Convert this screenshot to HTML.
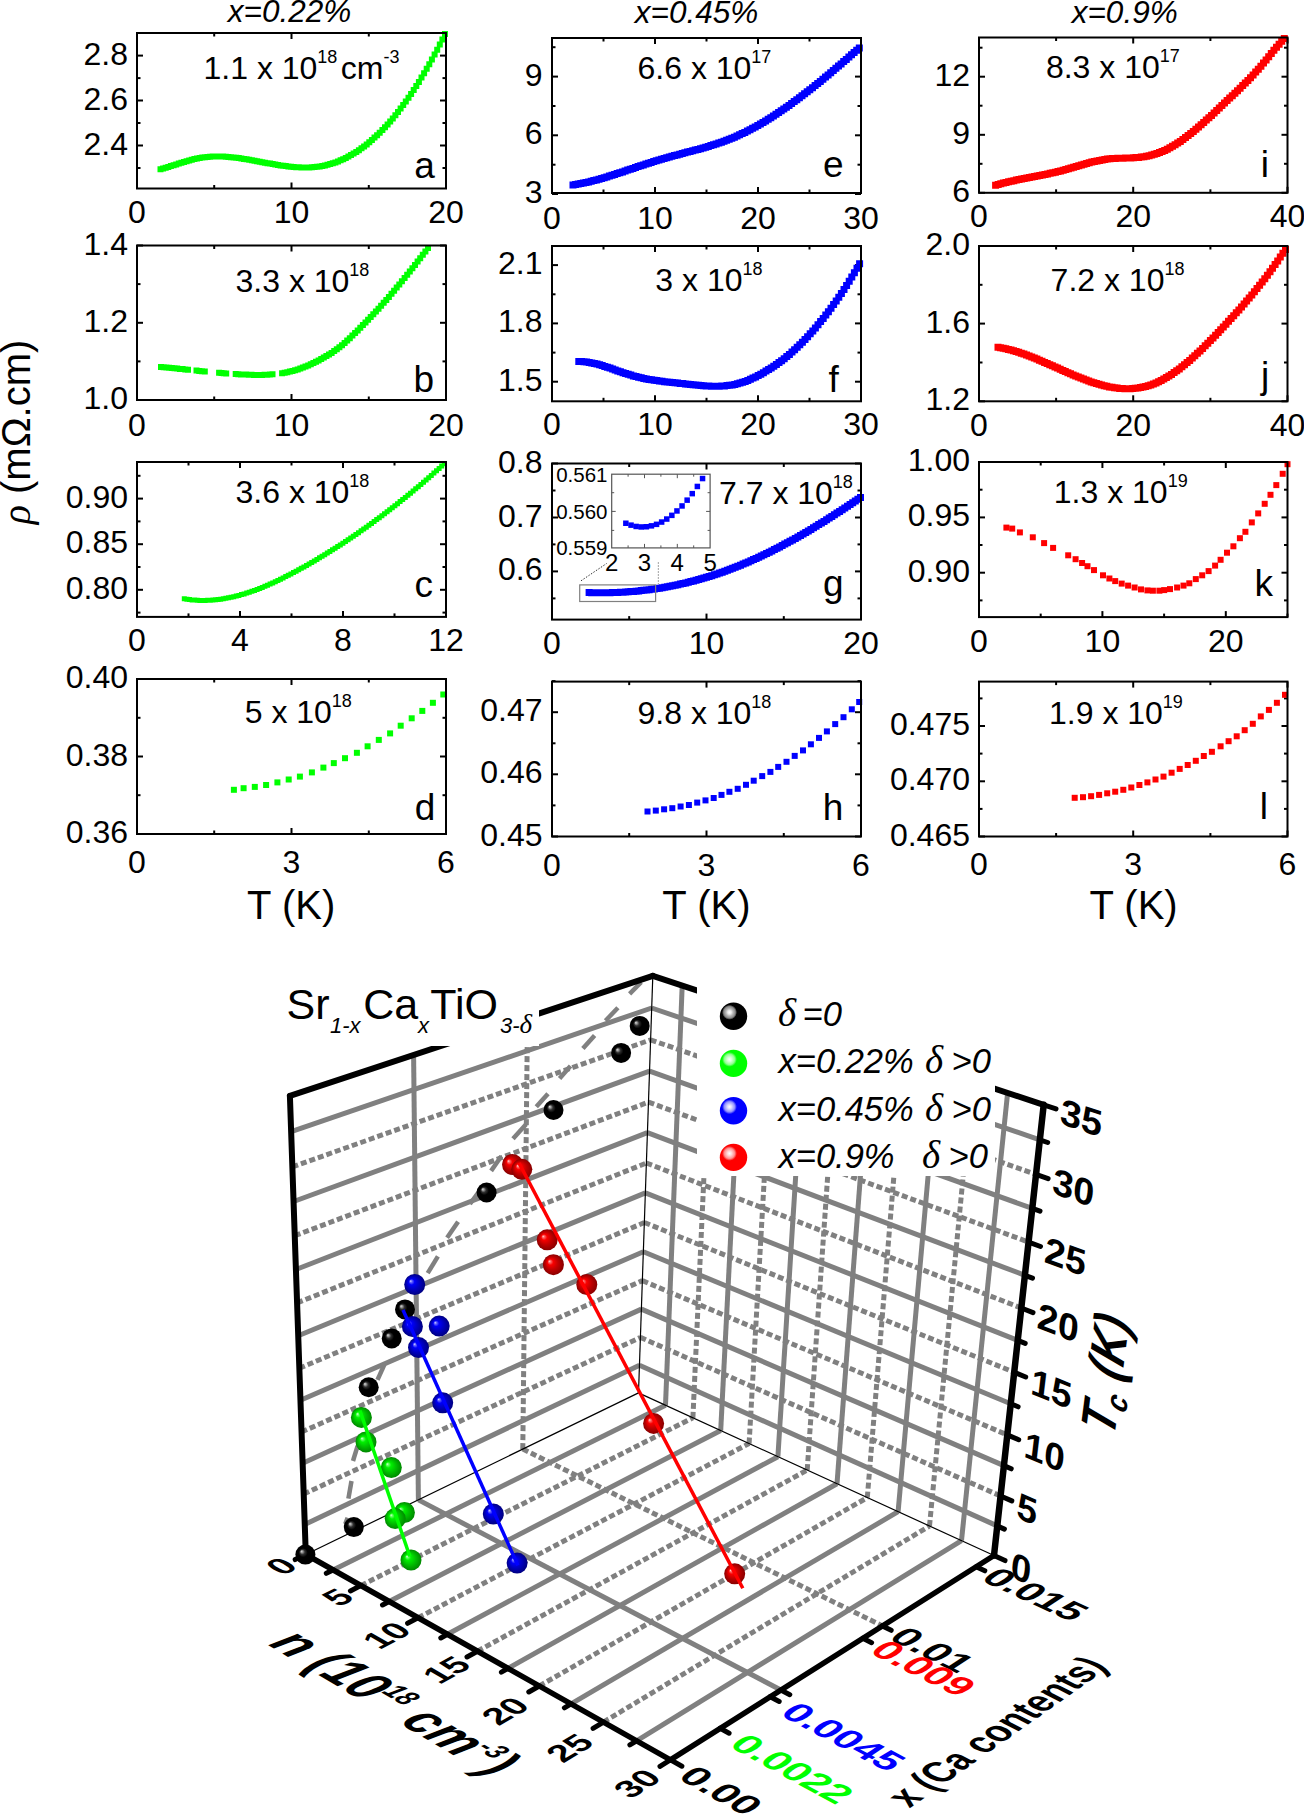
<!DOCTYPE html>
<html><head><meta charset="utf-8"><title>Figure</title>
<style>html,body{margin:0;padding:0;background:#fff;} svg{display:block;} text{font-family:"Liberation Sans", sans-serif;}</style>
</head><body>
<svg width="1304" height="1815" viewBox="0 0 1304 1815" font-family="&quot;Liberation Sans&quot;, sans-serif">
<defs>
<radialGradient id="gk" cx="0.5" cy="0.5" r="0.5" fx="0.3" fy="0.33"><stop offset="0" stop-color="#dadada"/><stop offset="0.1" stop-color="#a0a0a0"/><stop offset="0.25" stop-color="#303030"/><stop offset="0.45" stop-color="#000"/><stop offset="1" stop-color="#000"/></radialGradient>
<radialGradient id="gg" cx="0.5" cy="0.5" r="0.5" fx="0.3" fy="0.33"><stop offset="0" stop-color="#eaffea"/><stop offset="0.1" stop-color="#70ff70"/><stop offset="0.28" stop-color="#00f000"/><stop offset="0.6" stop-color="#00c000"/><stop offset="1" stop-color="#008800"/></radialGradient>
<radialGradient id="gb" cx="0.5" cy="0.5" r="0.5" fx="0.3" fy="0.33"><stop offset="0" stop-color="#e0e0ff"/><stop offset="0.1" stop-color="#7070ff"/><stop offset="0.28" stop-color="#0000f8"/><stop offset="0.6" stop-color="#0000c0"/><stop offset="1" stop-color="#000080"/></radialGradient>
<radialGradient id="gr" cx="0.5" cy="0.5" r="0.5" fx="0.3" fy="0.33"><stop offset="0" stop-color="#ffe0e0"/><stop offset="0.1" stop-color="#ff7070"/><stop offset="0.28" stop-color="#f80000"/><stop offset="0.6" stop-color="#c00000"/><stop offset="1" stop-color="#880000"/></radialGradient>
<radialGradient id="lk" cx="0.354" cy="0.354" r="0.27"><stop offset="0" stop-color="#fff"/><stop offset="0.25" stop-color="#e8e8e8"/><stop offset="0.5" stop-color="#b4b4b4"/><stop offset="0.78" stop-color="#888"/><stop offset="0.92" stop-color="#404040"/><stop offset="1" stop-color="#000"/></radialGradient>
<radialGradient id="lg" cx="0.354" cy="0.354" r="0.27"><stop offset="0" stop-color="#fff"/><stop offset="0.3" stop-color="#d8ffd8"/><stop offset="0.7" stop-color="#90ff90"/><stop offset="1" stop-color="#00ff00"/></radialGradient>
<radialGradient id="lb" cx="0.354" cy="0.354" r="0.27"><stop offset="0" stop-color="#fff"/><stop offset="0.3" stop-color="#d8d8ff"/><stop offset="0.7" stop-color="#9090ff"/><stop offset="1" stop-color="#0000ff"/></radialGradient>
<radialGradient id="lr" cx="0.354" cy="0.354" r="0.27"><stop offset="0" stop-color="#fff"/><stop offset="0.3" stop-color="#ffd8d8"/><stop offset="0.7" stop-color="#ff9090"/><stop offset="1" stop-color="#ff0000"/></radialGradient>
</defs>
<rect width="1304" height="1815" fill="#fff"/>
<line x1="137.0" y1="188.5" x2="137.0" y2="182.5" stroke="#000" stroke-width="2"/>
<line x1="137.0" y1="33.0" x2="137.0" y2="39.0" stroke="#000" stroke-width="2"/>
<line x1="291.5" y1="188.5" x2="291.5" y2="182.5" stroke="#000" stroke-width="2"/>
<line x1="291.5" y1="33.0" x2="291.5" y2="39.0" stroke="#000" stroke-width="2"/>
<line x1="446.0" y1="188.5" x2="446.0" y2="182.5" stroke="#000" stroke-width="2"/>
<line x1="446.0" y1="33.0" x2="446.0" y2="39.0" stroke="#000" stroke-width="2"/>
<line x1="214.2" y1="188.5" x2="214.2" y2="185.0" stroke="#000" stroke-width="2"/>
<line x1="214.2" y1="33.0" x2="214.2" y2="36.5" stroke="#000" stroke-width="2"/>
<line x1="368.8" y1="188.5" x2="368.8" y2="185.0" stroke="#000" stroke-width="2"/>
<line x1="368.8" y1="33.0" x2="368.8" y2="36.5" stroke="#000" stroke-width="2"/>
<line x1="137.0" y1="145.5" x2="143.0" y2="145.5" stroke="#000" stroke-width="2"/>
<line x1="446.0" y1="145.5" x2="440.0" y2="145.5" stroke="#000" stroke-width="2"/>
<line x1="137.0" y1="100.5" x2="143.0" y2="100.5" stroke="#000" stroke-width="2"/>
<line x1="446.0" y1="100.5" x2="440.0" y2="100.5" stroke="#000" stroke-width="2"/>
<line x1="137.0" y1="55.6" x2="143.0" y2="55.6" stroke="#000" stroke-width="2"/>
<line x1="446.0" y1="55.6" x2="440.0" y2="55.6" stroke="#000" stroke-width="2"/>
<line x1="137.0" y1="168.0" x2="140.5" y2="168.0" stroke="#000" stroke-width="2"/>
<line x1="446.0" y1="168.0" x2="442.5" y2="168.0" stroke="#000" stroke-width="2"/>
<line x1="137.0" y1="123.0" x2="140.5" y2="123.0" stroke="#000" stroke-width="2"/>
<line x1="446.0" y1="123.0" x2="442.5" y2="123.0" stroke="#000" stroke-width="2"/>
<line x1="137.0" y1="78.1" x2="140.5" y2="78.1" stroke="#000" stroke-width="2"/>
<line x1="446.0" y1="78.1" x2="442.5" y2="78.1" stroke="#000" stroke-width="2"/>
<path d="M157.5,166.2h6v6h-6zM160.1,165.4h6v6h-6zM162.7,164.7h6v6h-6zM165.3,163.9h6v6h-6zM167.9,163.1h6v6h-6zM170.6,162.2h6v6h-6zM173.2,161.4h6v6h-6zM175.8,160.6h6v6h-6zM178.4,159.8h6v6h-6zM181.0,159.0h6v6h-6zM183.6,158.2h6v6h-6zM186.2,157.5h6v6h-6zM188.8,156.8h6v6h-6zM191.4,156.1h6v6h-6zM194.0,155.6h6v6h-6zM196.7,155.0h6v6h-6zM199.3,154.6h6v6h-6zM201.9,154.2h6v6h-6zM204.5,154.0h6v6h-6zM207.1,153.7h6v6h-6zM209.7,153.6h6v6h-6zM212.3,153.5h6v6h-6zM214.9,153.5h6v6h-6zM217.5,153.5h6v6h-6zM220.1,153.6h6v6h-6zM222.8,153.8h6v6h-6zM225.4,154.0h6v6h-6zM228.0,154.2h6v6h-6zM230.6,154.5h6v6h-6zM233.2,154.8h6v6h-6zM235.8,155.1h6v6h-6zM238.4,155.5h6v6h-6zM241.0,155.9h6v6h-6zM243.6,156.3h6v6h-6zM246.2,156.8h6v6h-6zM248.9,157.2h6v6h-6zM251.5,157.7h6v6h-6zM254.1,158.2h6v6h-6zM256.7,158.7h6v6h-6zM259.3,159.2h6v6h-6zM261.9,159.7h6v6h-6zM264.5,160.2h6v6h-6zM267.1,160.6h6v6h-6zM269.7,161.1h6v6h-6zM272.3,161.6h6v6h-6zM275.0,162.0h6v6h-6zM277.6,162.4h6v6h-6zM280.2,162.8h6v6h-6zM282.8,163.1h6v6h-6zM285.4,163.5h6v6h-6zM288.0,163.7h6v6h-6zM290.6,164.0h6v6h-6zM293.2,164.2h6v6h-6zM295.8,164.3h6v6h-6zM298.4,164.4h6v6h-6zM301.1,164.5h6v6h-6zM303.7,164.5h6v6h-6zM306.3,164.4h6v6h-6zM308.9,164.2h6v6h-6zM311.5,164.0h6v6h-6zM314.1,163.7h6v6h-6zM316.7,163.4h6v6h-6zM319.3,162.9h6v6h-6zM321.9,162.4h6v6h-6zM324.5,161.8h6v6h-6zM327.2,161.1h6v6h-6zM329.8,160.3h6v6h-6zM332.4,159.4h6v6h-6zM335.0,158.4h6v6h-6zM337.6,157.3h6v6h-6zM340.2,156.2h6v6h-6zM342.8,154.9h6v6h-6zM345.4,153.5h6v6h-6zM348.0,152.1h6v6h-6zM350.6,150.5h6v6h-6zM353.3,148.9h6v6h-6zM355.9,147.2h6v6h-6zM358.5,145.3h6v6h-6zM361.1,143.4h6v6h-6zM363.7,141.4h6v6h-6zM366.3,139.2h6v6h-6zM368.9,137.0h6v6h-6zM371.5,134.6h6v6h-6zM374.1,132.2h6v6h-6zM376.7,129.7h6v6h-6zM379.4,127.0h6v6h-6zM382.0,124.3h6v6h-6zM384.6,121.4h6v6h-6zM387.2,118.5h6v6h-6zM389.8,115.4h6v6h-6zM392.4,112.2h6v6h-6zM395.0,109.0h6v6h-6zM397.6,105.6h6v6h-6zM400.2,102.1h6v6h-6zM402.8,98.5h6v6h-6zM405.5,94.8h6v6h-6zM408.1,91.0h6v6h-6zM410.7,87.1h6v6h-6zM413.3,83.0h6v6h-6zM415.9,78.9h6v6h-6zM418.5,74.6h6v6h-6zM421.1,70.3h6v6h-6zM423.7,65.8h6v6h-6zM426.3,61.2h6v6h-6zM428.9,56.5h6v6h-6zM431.6,51.6h6v6h-6zM434.2,46.7h6v6h-6zM436.8,41.6h6v6h-6zM439.4,36.4h6v6h-6zM442.0,31.1h6v6h-6z" fill="#00ff00"/>
<rect x="137.0" y="33.0" width="309.0" height="155.5" fill="none" stroke="#000" stroke-width="2"/>
<text x="128.0" y="154.5" font-size="32" text-anchor="end">2.4</text>
<text x="128.0" y="109.5" font-size="32" text-anchor="end">2.6</text>
<text x="128.0" y="64.6" font-size="32" text-anchor="end">2.8</text>
<text x="137.0" y="223.3" font-size="32" text-anchor="middle">0</text>
<text x="291.5" y="223.3" font-size="32" text-anchor="middle">10</text>
<text x="446.0" y="223.3" font-size="32" text-anchor="middle">20</text>
<text x="203.5" y="78.6" font-size="32">1.1 x 10<tspan font-size="18" dy="-16">18</tspan><tspan font-size="32" dy="16" dx="-5.5"> cm</tspan><tspan font-size="18" dy="-16">-3</tspan></text>
<text x="414.2" y="177.7" font-size="37">a</text>
<line x1="137.0" y1="400.0" x2="137.0" y2="394.0" stroke="#000" stroke-width="2"/>
<line x1="137.0" y1="245.5" x2="137.0" y2="251.5" stroke="#000" stroke-width="2"/>
<line x1="291.5" y1="400.0" x2="291.5" y2="394.0" stroke="#000" stroke-width="2"/>
<line x1="291.5" y1="245.5" x2="291.5" y2="251.5" stroke="#000" stroke-width="2"/>
<line x1="446.0" y1="400.0" x2="446.0" y2="394.0" stroke="#000" stroke-width="2"/>
<line x1="446.0" y1="245.5" x2="446.0" y2="251.5" stroke="#000" stroke-width="2"/>
<line x1="214.2" y1="400.0" x2="214.2" y2="396.5" stroke="#000" stroke-width="2"/>
<line x1="214.2" y1="245.5" x2="214.2" y2="249.0" stroke="#000" stroke-width="2"/>
<line x1="368.8" y1="400.0" x2="368.8" y2="396.5" stroke="#000" stroke-width="2"/>
<line x1="368.8" y1="245.5" x2="368.8" y2="249.0" stroke="#000" stroke-width="2"/>
<line x1="137.0" y1="400.0" x2="143.0" y2="400.0" stroke="#000" stroke-width="2"/>
<line x1="446.0" y1="400.0" x2="440.0" y2="400.0" stroke="#000" stroke-width="2"/>
<line x1="137.0" y1="322.8" x2="143.0" y2="322.8" stroke="#000" stroke-width="2"/>
<line x1="446.0" y1="322.8" x2="440.0" y2="322.8" stroke="#000" stroke-width="2"/>
<line x1="137.0" y1="245.5" x2="143.0" y2="245.5" stroke="#000" stroke-width="2"/>
<line x1="446.0" y1="245.5" x2="440.0" y2="245.5" stroke="#000" stroke-width="2"/>
<line x1="137.0" y1="361.4" x2="140.5" y2="361.4" stroke="#000" stroke-width="2"/>
<line x1="446.0" y1="361.4" x2="442.5" y2="361.4" stroke="#000" stroke-width="2"/>
<line x1="137.0" y1="284.1" x2="140.5" y2="284.1" stroke="#000" stroke-width="2"/>
<line x1="446.0" y1="284.1" x2="442.5" y2="284.1" stroke="#000" stroke-width="2"/>
<path d="M158.0,363.9h6v6h-6zM160.7,364.2h6v6h-6zM163.4,364.5h6v6h-6zM166.1,364.7h6v6h-6zM168.8,365.0h6v6h-6zM171.5,365.3h6v6h-6zM174.2,365.6h6v6h-6zM176.9,365.9h6v6h-6zM179.6,366.1h6v6h-6zM182.3,366.4h6v6h-6zM185.0,366.7h6v6h-6z" fill="#00ff00"/>
<path d="M193.5,367.6h6v6h-6zM196.3,367.9h6v6h-6zM199.0,368.2h6v6h-6zM201.8,368.4h6v6h-6z" fill="#00ff00"/>
<path d="M216.1,369.8h6v6h-6zM218.5,370.0h6v6h-6zM220.8,370.2h6v6h-6zM223.2,370.4h6v6h-6z" fill="#00ff00"/>
<path d="M232.7,371.1h6v6h-6zM235.3,371.2h6v6h-6zM238.0,371.4h6v6h-6zM240.6,371.5h6v6h-6zM243.2,371.6h6v6h-6zM245.8,371.7h6v6h-6zM248.5,371.8h6v6h-6zM251.1,371.9h6v6h-6zM253.7,371.9h6v6h-6zM256.4,371.9h6v6h-6zM259.0,371.9h6v6h-6zM261.6,371.8h6v6h-6zM264.2,371.7h6v6h-6zM266.9,371.5h6v6h-6zM269.5,371.3h6v6h-6z" fill="#00ff00"/>
<path d="M279.1,370.2h6v6h-6zM281.7,369.7h6v6h-6zM284.3,369.2h6v6h-6zM286.9,368.6h6v6h-6zM289.5,368.0h6v6h-6zM292.1,367.2h6v6h-6zM294.7,366.5h6v6h-6zM297.3,365.6h6v6h-6zM299.9,364.6h6v6h-6zM302.5,363.6h6v6h-6zM305.2,362.5h6v6h-6zM307.8,361.3h6v6h-6zM310.4,360.0h6v6h-6zM313.0,358.7h6v6h-6zM315.6,357.4h6v6h-6zM318.2,356.0h6v6h-6zM320.8,354.5h6v6h-6zM323.4,353.0h6v6h-6zM326.0,351.5h6v6h-6zM328.6,349.9h6v6h-6zM331.2,348.1h6v6h-6zM333.8,346.3h6v6h-6zM336.4,344.3h6v6h-6zM339.0,342.2h6v6h-6zM341.6,340.0h6v6h-6zM344.2,337.6h6v6h-6zM346.8,335.2h6v6h-6zM349.4,332.6h6v6h-6zM352.1,330.0h6v6h-6zM354.7,327.4h6v6h-6zM357.3,324.7h6v6h-6zM359.9,322.1h6v6h-6zM362.5,319.4h6v6h-6zM365.1,316.8h6v6h-6zM367.7,314.1h6v6h-6zM370.3,311.3h6v6h-6zM372.9,308.5h6v6h-6zM375.5,305.7h6v6h-6zM378.1,302.8h6v6h-6zM380.7,299.8h6v6h-6zM383.3,296.9h6v6h-6zM385.9,293.9h6v6h-6zM388.5,290.8h6v6h-6zM391.1,287.7h6v6h-6zM393.7,284.6h6v6h-6zM396.3,281.4h6v6h-6zM398.9,278.3h6v6h-6zM401.6,275.0h6v6h-6zM404.2,271.8h6v6h-6zM406.8,268.5h6v6h-6zM409.4,265.2h6v6h-6zM412.0,261.9h6v6h-6zM414.6,258.6h6v6h-6zM417.2,255.2h6v6h-6zM419.8,251.8h6v6h-6zM422.4,248.4h6v6h-6zM425.0,245.0h6v6h-6z" fill="#00ff00"/>
<rect x="137.0" y="245.5" width="309.0" height="154.5" fill="none" stroke="#000" stroke-width="2"/>
<text x="128.0" y="409.0" font-size="32" text-anchor="end">1.0</text>
<text x="128.0" y="331.8" font-size="32" text-anchor="end">1.2</text>
<text x="128.0" y="254.5" font-size="32" text-anchor="end">1.4</text>
<text x="137.0" y="435.9" font-size="32" text-anchor="middle">0</text>
<text x="291.5" y="435.9" font-size="32" text-anchor="middle">10</text>
<text x="446.0" y="435.9" font-size="32" text-anchor="middle">20</text>
<text x="235.5" y="292.2" font-size="32">3.3 x 10<tspan font-size="18" dy="-16">18</tspan></text>
<text x="413.5" y="392.0" font-size="37">b</text>
<line x1="137.0" y1="616.9" x2="137.0" y2="610.9" stroke="#000" stroke-width="2"/>
<line x1="137.0" y1="462.0" x2="137.0" y2="468.0" stroke="#000" stroke-width="2"/>
<line x1="240.0" y1="616.9" x2="240.0" y2="610.9" stroke="#000" stroke-width="2"/>
<line x1="240.0" y1="462.0" x2="240.0" y2="468.0" stroke="#000" stroke-width="2"/>
<line x1="343.0" y1="616.9" x2="343.0" y2="610.9" stroke="#000" stroke-width="2"/>
<line x1="343.0" y1="462.0" x2="343.0" y2="468.0" stroke="#000" stroke-width="2"/>
<line x1="446.0" y1="616.9" x2="446.0" y2="610.9" stroke="#000" stroke-width="2"/>
<line x1="446.0" y1="462.0" x2="446.0" y2="468.0" stroke="#000" stroke-width="2"/>
<line x1="188.5" y1="616.9" x2="188.5" y2="613.4" stroke="#000" stroke-width="2"/>
<line x1="188.5" y1="462.0" x2="188.5" y2="465.5" stroke="#000" stroke-width="2"/>
<line x1="291.5" y1="616.9" x2="291.5" y2="613.4" stroke="#000" stroke-width="2"/>
<line x1="291.5" y1="462.0" x2="291.5" y2="465.5" stroke="#000" stroke-width="2"/>
<line x1="394.5" y1="616.9" x2="394.5" y2="613.4" stroke="#000" stroke-width="2"/>
<line x1="394.5" y1="462.0" x2="394.5" y2="465.5" stroke="#000" stroke-width="2"/>
<line x1="137.0" y1="589.8" x2="143.0" y2="589.8" stroke="#000" stroke-width="2"/>
<line x1="446.0" y1="589.8" x2="440.0" y2="589.8" stroke="#000" stroke-width="2"/>
<line x1="137.0" y1="544.2" x2="143.0" y2="544.2" stroke="#000" stroke-width="2"/>
<line x1="446.0" y1="544.2" x2="440.0" y2="544.2" stroke="#000" stroke-width="2"/>
<line x1="137.0" y1="498.6" x2="143.0" y2="498.6" stroke="#000" stroke-width="2"/>
<line x1="446.0" y1="498.6" x2="440.0" y2="498.6" stroke="#000" stroke-width="2"/>
<line x1="137.0" y1="612.6" x2="140.5" y2="612.6" stroke="#000" stroke-width="2"/>
<line x1="446.0" y1="612.6" x2="442.5" y2="612.6" stroke="#000" stroke-width="2"/>
<line x1="137.0" y1="567.0" x2="140.5" y2="567.0" stroke="#000" stroke-width="2"/>
<line x1="446.0" y1="567.0" x2="442.5" y2="567.0" stroke="#000" stroke-width="2"/>
<line x1="137.0" y1="521.4" x2="140.5" y2="521.4" stroke="#000" stroke-width="2"/>
<line x1="446.0" y1="521.4" x2="442.5" y2="521.4" stroke="#000" stroke-width="2"/>
<line x1="137.0" y1="475.8" x2="140.5" y2="475.8" stroke="#000" stroke-width="2"/>
<line x1="446.0" y1="475.8" x2="442.5" y2="475.8" stroke="#000" stroke-width="2"/>
<path d="M181.8,596.3h5v5h-5zM184.4,596.7h5v5h-5zM187.0,597.1h5v5h-5zM189.6,597.4h5v5h-5zM192.2,597.6h5v5h-5zM194.8,597.8h5v5h-5zM197.4,597.9h5v5h-5zM200.0,597.9h5v5h-5zM202.6,597.9h5v5h-5zM205.2,597.8h5v5h-5zM207.8,597.7h5v5h-5zM210.4,597.5h5v5h-5zM213.0,597.3h5v5h-5zM215.6,597.0h5v5h-5zM218.2,596.7h5v5h-5zM220.8,596.3h5v5h-5zM223.4,595.8h5v5h-5zM226.0,595.3h5v5h-5zM228.6,594.8h5v5h-5zM231.2,594.2h5v5h-5zM233.8,593.5h5v5h-5zM236.4,592.9h5v5h-5zM239.0,592.1h5v5h-5zM241.6,591.4h5v5h-5zM244.2,590.6h5v5h-5zM246.8,589.7h5v5h-5zM249.4,588.8h5v5h-5zM252.0,587.9h5v5h-5zM254.6,586.9h5v5h-5zM257.2,585.9h5v5h-5zM259.8,584.9h5v5h-5zM262.4,583.8h5v5h-5zM265.0,582.7h5v5h-5zM267.6,581.6h5v5h-5zM270.2,580.4h5v5h-5zM272.8,579.2h5v5h-5zM275.4,578.0h5v5h-5zM278.0,576.7h5v5h-5zM280.6,575.4h5v5h-5zM283.2,574.1h5v5h-5zM285.8,572.8h5v5h-5zM288.4,571.4h5v5h-5zM291.0,570.1h5v5h-5zM293.6,568.7h5v5h-5zM296.2,567.3h5v5h-5zM298.8,565.8h5v5h-5zM301.4,564.4h5v5h-5zM304.0,562.9h5v5h-5zM306.6,561.4h5v5h-5zM309.2,559.9h5v5h-5zM311.8,558.4h5v5h-5zM314.4,556.9h5v5h-5zM317.0,555.3h5v5h-5zM319.6,553.8h5v5h-5zM322.2,552.2h5v5h-5zM324.8,550.6h5v5h-5zM327.4,549.0h5v5h-5zM330.0,547.3h5v5h-5zM332.6,545.7h5v5h-5zM335.2,544.0h5v5h-5zM337.8,542.4h5v5h-5zM340.4,540.7h5v5h-5zM343.0,539.0h5v5h-5zM345.6,537.2h5v5h-5zM348.2,535.5h5v5h-5zM350.8,533.7h5v5h-5zM353.4,531.9h5v5h-5zM356.0,530.2h5v5h-5zM358.6,528.3h5v5h-5zM361.2,526.5h5v5h-5zM363.8,524.7h5v5h-5zM366.4,522.8h5v5h-5zM369.0,520.9h5v5h-5zM371.6,519.0h5v5h-5zM374.2,517.1h5v5h-5zM376.8,515.2h5v5h-5zM379.4,513.3h5v5h-5zM382.0,511.3h5v5h-5zM384.6,509.3h5v5h-5zM387.2,507.3h5v5h-5zM389.8,505.3h5v5h-5zM392.4,503.3h5v5h-5zM395.0,501.2h5v5h-5zM397.6,499.1h5v5h-5zM400.2,497.1h5v5h-5zM402.8,494.9h5v5h-5zM405.4,492.8h5v5h-5zM408.0,490.7h5v5h-5zM410.6,488.5h5v5h-5zM413.2,486.3h5v5h-5zM415.8,484.2h5v5h-5zM418.4,481.9h5v5h-5zM421.0,479.7h5v5h-5zM423.6,477.5h5v5h-5zM426.2,475.2h5v5h-5zM428.8,472.9h5v5h-5zM431.4,470.6h5v5h-5zM434.0,468.3h5v5h-5zM436.6,465.9h5v5h-5zM439.2,463.6h5v5h-5zM441.8,461.2h5v5h-5z" fill="#00ff00"/>
<rect x="137.0" y="462.0" width="309.0" height="154.9" fill="none" stroke="#000" stroke-width="2"/>
<text x="128.0" y="598.8" font-size="32" text-anchor="end">0.80</text>
<text x="128.0" y="553.2" font-size="32" text-anchor="end">0.85</text>
<text x="128.0" y="507.6" font-size="32" text-anchor="end">0.90</text>
<text x="137.0" y="651.0" font-size="32" text-anchor="middle">0</text>
<text x="240.0" y="651.0" font-size="32" text-anchor="middle">4</text>
<text x="343.0" y="651.0" font-size="32" text-anchor="middle">8</text>
<text x="446.0" y="651.0" font-size="32" text-anchor="middle">12</text>
<text x="235.5" y="502.5" font-size="32">3.6 x 10<tspan font-size="18" dy="-16">18</tspan></text>
<text x="414.6" y="597.0" font-size="37">c</text>
<line x1="137.0" y1="834.0" x2="137.0" y2="828.0" stroke="#000" stroke-width="2"/>
<line x1="137.0" y1="679.0" x2="137.0" y2="685.0" stroke="#000" stroke-width="2"/>
<line x1="291.5" y1="834.0" x2="291.5" y2="828.0" stroke="#000" stroke-width="2"/>
<line x1="291.5" y1="679.0" x2="291.5" y2="685.0" stroke="#000" stroke-width="2"/>
<line x1="446.0" y1="834.0" x2="446.0" y2="828.0" stroke="#000" stroke-width="2"/>
<line x1="446.0" y1="679.0" x2="446.0" y2="685.0" stroke="#000" stroke-width="2"/>
<line x1="214.2" y1="834.0" x2="214.2" y2="830.5" stroke="#000" stroke-width="2"/>
<line x1="214.2" y1="679.0" x2="214.2" y2="682.5" stroke="#000" stroke-width="2"/>
<line x1="368.8" y1="834.0" x2="368.8" y2="830.5" stroke="#000" stroke-width="2"/>
<line x1="368.8" y1="679.0" x2="368.8" y2="682.5" stroke="#000" stroke-width="2"/>
<line x1="137.0" y1="834.0" x2="143.0" y2="834.0" stroke="#000" stroke-width="2"/>
<line x1="446.0" y1="834.0" x2="440.0" y2="834.0" stroke="#000" stroke-width="2"/>
<line x1="137.0" y1="756.5" x2="143.0" y2="756.5" stroke="#000" stroke-width="2"/>
<line x1="446.0" y1="756.5" x2="440.0" y2="756.5" stroke="#000" stroke-width="2"/>
<line x1="137.0" y1="679.0" x2="143.0" y2="679.0" stroke="#000" stroke-width="2"/>
<line x1="446.0" y1="679.0" x2="440.0" y2="679.0" stroke="#000" stroke-width="2"/>
<line x1="137.0" y1="795.2" x2="140.5" y2="795.2" stroke="#000" stroke-width="2"/>
<line x1="446.0" y1="795.2" x2="442.5" y2="795.2" stroke="#000" stroke-width="2"/>
<line x1="137.0" y1="717.8" x2="140.5" y2="717.8" stroke="#000" stroke-width="2"/>
<line x1="446.0" y1="717.8" x2="442.5" y2="717.8" stroke="#000" stroke-width="2"/>
<rect x="230.9" y="786.8" width="6" height="6" fill="#00ff00"/>
<rect x="240.6" y="785.2" width="6" height="6" fill="#00ff00"/>
<rect x="251.8" y="783.9" width="6" height="6" fill="#00ff00"/>
<rect x="263.1" y="782.0" width="6" height="6" fill="#00ff00"/>
<rect x="274.4" y="779.4" width="6" height="6" fill="#00ff00"/>
<rect x="285.7" y="776.5" width="6" height="6" fill="#00ff00"/>
<rect x="296.9" y="773.6" width="6" height="6" fill="#00ff00"/>
<rect x="308.9" y="769.4" width="6" height="6" fill="#00ff00"/>
<rect x="320.4" y="764.6" width="6" height="6" fill="#00ff00"/>
<rect x="330.8" y="760.1" width="6" height="6" fill="#00ff00"/>
<rect x="342.0" y="755.2" width="6" height="6" fill="#00ff00"/>
<rect x="353.9" y="749.8" width="6" height="6" fill="#00ff00"/>
<rect x="364.6" y="743.3" width="6" height="6" fill="#00ff00"/>
<rect x="375.8" y="736.9" width="6" height="6" fill="#00ff00"/>
<rect x="387.1" y="730.4" width="6" height="6" fill="#00ff00"/>
<rect x="397.7" y="722.7" width="6" height="6" fill="#00ff00"/>
<rect x="408.7" y="715.3" width="6" height="6" fill="#00ff00"/>
<rect x="419.3" y="707.9" width="6" height="6" fill="#00ff00"/>
<rect x="429.9" y="699.8" width="6" height="6" fill="#00ff00"/>
<rect x="440.3" y="691.5" width="6" height="6" fill="#00ff00"/>
<rect x="137.0" y="679.0" width="309.0" height="155.0" fill="none" stroke="#000" stroke-width="2"/>
<text x="128.0" y="843.0" font-size="32" text-anchor="end">0.36</text>
<text x="128.0" y="765.5" font-size="32" text-anchor="end">0.38</text>
<text x="128.0" y="688.0" font-size="32" text-anchor="end">0.40</text>
<text x="137.0" y="873.2" font-size="32" text-anchor="middle">0</text>
<text x="291.5" y="873.2" font-size="32" text-anchor="middle">3</text>
<text x="446.0" y="873.2" font-size="32" text-anchor="middle">6</text>
<text x="244.7" y="722.5" font-size="32">5 x 10<tspan font-size="18" dy="-16">18</tspan></text>
<text x="414.8" y="820.0" font-size="37">d</text>
<line x1="552.0" y1="193.0" x2="552.0" y2="187.0" stroke="#000" stroke-width="2"/>
<line x1="552.0" y1="38.0" x2="552.0" y2="44.0" stroke="#000" stroke-width="2"/>
<line x1="655.0" y1="193.0" x2="655.0" y2="187.0" stroke="#000" stroke-width="2"/>
<line x1="655.0" y1="38.0" x2="655.0" y2="44.0" stroke="#000" stroke-width="2"/>
<line x1="758.0" y1="193.0" x2="758.0" y2="187.0" stroke="#000" stroke-width="2"/>
<line x1="758.0" y1="38.0" x2="758.0" y2="44.0" stroke="#000" stroke-width="2"/>
<line x1="861.0" y1="193.0" x2="861.0" y2="187.0" stroke="#000" stroke-width="2"/>
<line x1="861.0" y1="38.0" x2="861.0" y2="44.0" stroke="#000" stroke-width="2"/>
<line x1="603.5" y1="193.0" x2="603.5" y2="189.5" stroke="#000" stroke-width="2"/>
<line x1="603.5" y1="38.0" x2="603.5" y2="41.5" stroke="#000" stroke-width="2"/>
<line x1="706.5" y1="193.0" x2="706.5" y2="189.5" stroke="#000" stroke-width="2"/>
<line x1="706.5" y1="38.0" x2="706.5" y2="41.5" stroke="#000" stroke-width="2"/>
<line x1="809.5" y1="193.0" x2="809.5" y2="189.5" stroke="#000" stroke-width="2"/>
<line x1="809.5" y1="38.0" x2="809.5" y2="41.5" stroke="#000" stroke-width="2"/>
<line x1="552.0" y1="194.0" x2="558.0" y2="194.0" stroke="#000" stroke-width="2"/>
<line x1="861.0" y1="194.0" x2="855.0" y2="194.0" stroke="#000" stroke-width="2"/>
<line x1="552.0" y1="135.3" x2="558.0" y2="135.3" stroke="#000" stroke-width="2"/>
<line x1="861.0" y1="135.3" x2="855.0" y2="135.3" stroke="#000" stroke-width="2"/>
<line x1="552.0" y1="76.6" x2="558.0" y2="76.6" stroke="#000" stroke-width="2"/>
<line x1="861.0" y1="76.6" x2="855.0" y2="76.6" stroke="#000" stroke-width="2"/>
<line x1="552.0" y1="164.7" x2="555.5" y2="164.7" stroke="#000" stroke-width="2"/>
<line x1="861.0" y1="164.7" x2="857.5" y2="164.7" stroke="#000" stroke-width="2"/>
<line x1="552.0" y1="106.0" x2="555.5" y2="106.0" stroke="#000" stroke-width="2"/>
<line x1="861.0" y1="106.0" x2="857.5" y2="106.0" stroke="#000" stroke-width="2"/>
<line x1="552.0" y1="47.2" x2="555.5" y2="47.2" stroke="#000" stroke-width="2"/>
<line x1="861.0" y1="47.2" x2="857.5" y2="47.2" stroke="#000" stroke-width="2"/>
<path d="M569.5,181.5h7v7h-7zM572.1,181.1h7v7h-7zM574.7,180.6h7v7h-7zM577.3,180.1h7v7h-7zM579.9,179.6h7v7h-7zM582.5,179.0h7v7h-7zM585.1,178.4h7v7h-7zM587.7,177.8h7v7h-7zM590.3,177.1h7v7h-7zM592.9,176.4h7v7h-7zM595.5,175.7h7v7h-7zM598.1,175.0h7v7h-7zM600.7,174.2h7v7h-7zM603.3,173.4h7v7h-7zM605.9,172.6h7v7h-7zM608.5,171.8h7v7h-7zM611.1,170.9h7v7h-7zM613.7,170.1h7v7h-7zM616.3,169.2h7v7h-7zM619.0,168.4h7v7h-7zM621.6,167.5h7v7h-7zM624.2,166.6h7v7h-7zM626.8,165.8h7v7h-7zM629.4,164.9h7v7h-7zM632.0,164.0h7v7h-7zM634.6,163.1h7v7h-7zM637.2,162.3h7v7h-7zM639.8,161.4h7v7h-7zM642.4,160.6h7v7h-7zM645.0,159.7h7v7h-7zM647.6,158.9h7v7h-7zM650.2,158.0h7v7h-7zM652.8,157.2h7v7h-7zM655.4,156.4h7v7h-7zM658.0,155.7h7v7h-7zM660.6,154.9h7v7h-7zM663.2,154.2h7v7h-7zM665.8,153.4h7v7h-7zM668.4,152.7h7v7h-7zM671.0,152.0h7v7h-7zM673.6,151.4h7v7h-7zM676.2,150.7h7v7h-7zM678.8,150.0h7v7h-7zM681.4,149.3h7v7h-7zM684.0,148.6h7v7h-7zM686.6,148.0h7v7h-7zM689.2,147.3h7v7h-7zM691.8,146.6h7v7h-7zM694.4,145.9h7v7h-7zM697.0,145.2h7v7h-7zM699.6,144.4h7v7h-7zM702.2,143.7h7v7h-7zM704.8,142.9h7v7h-7zM707.4,142.1h7v7h-7zM710.0,141.3h7v7h-7zM712.6,140.5h7v7h-7zM715.3,139.6h7v7h-7zM717.9,138.7h7v7h-7zM720.5,137.8h7v7h-7zM723.1,136.8h7v7h-7zM725.7,135.8h7v7h-7zM728.3,134.7h7v7h-7zM730.9,133.7h7v7h-7zM733.5,132.5h7v7h-7zM736.1,131.3h7v7h-7zM738.7,130.1h7v7h-7zM741.3,128.9h7v7h-7zM743.9,127.6h7v7h-7zM746.5,126.2h7v7h-7zM749.1,124.8h7v7h-7zM751.7,123.4h7v7h-7zM754.3,122.0h7v7h-7zM756.9,120.5h7v7h-7zM759.5,119.0h7v7h-7zM762.1,117.4h7v7h-7zM764.7,115.8h7v7h-7zM767.3,114.2h7v7h-7zM769.9,112.5h7v7h-7zM772.5,110.8h7v7h-7zM775.1,109.1h7v7h-7zM777.7,107.3h7v7h-7zM780.3,105.6h7v7h-7zM782.9,103.7h7v7h-7zM785.5,101.9h7v7h-7zM788.1,100.0h7v7h-7zM790.7,98.1h7v7h-7zM793.3,96.2h7v7h-7zM795.9,94.3h7v7h-7zM798.5,92.3h7v7h-7zM801.1,90.3h7v7h-7zM803.7,88.3h7v7h-7zM806.3,86.2h7v7h-7zM809.0,84.2h7v7h-7zM811.6,82.1h7v7h-7zM814.2,80.0h7v7h-7zM816.8,77.9h7v7h-7zM819.4,75.8h7v7h-7zM822.0,73.6h7v7h-7zM824.6,71.4h7v7h-7zM827.2,69.2h7v7h-7zM829.8,67.0h7v7h-7zM832.4,64.8h7v7h-7zM835.0,62.6h7v7h-7zM837.6,60.4h7v7h-7zM840.2,58.1h7v7h-7zM842.8,55.9h7v7h-7zM845.4,53.6h7v7h-7zM848.0,51.3h7v7h-7zM850.6,49.0h7v7h-7zM853.2,46.7h7v7h-7zM855.8,44.4h7v7h-7z" fill="#0000ff"/>
<rect x="552.0" y="38.0" width="309.0" height="155.0" fill="none" stroke="#000" stroke-width="2"/>
<text x="542.5" y="203.0" font-size="32" text-anchor="end">3</text>
<text x="542.5" y="144.3" font-size="32" text-anchor="end">6</text>
<text x="542.5" y="85.6" font-size="32" text-anchor="end">9</text>
<text x="552.0" y="229.0" font-size="32" text-anchor="middle">0</text>
<text x="655.0" y="229.0" font-size="32" text-anchor="middle">10</text>
<text x="758.0" y="229.0" font-size="32" text-anchor="middle">20</text>
<text x="861.0" y="229.0" font-size="32" text-anchor="middle">30</text>
<text x="637.5" y="78.8" font-size="32">6.6 x 10<tspan font-size="18" dy="-16">17</tspan></text>
<text x="822.9" y="177.0" font-size="37">e</text>
<line x1="552.0" y1="401.3" x2="552.0" y2="395.3" stroke="#000" stroke-width="2"/>
<line x1="552.0" y1="246.0" x2="552.0" y2="252.0" stroke="#000" stroke-width="2"/>
<line x1="655.0" y1="401.3" x2="655.0" y2="395.3" stroke="#000" stroke-width="2"/>
<line x1="655.0" y1="246.0" x2="655.0" y2="252.0" stroke="#000" stroke-width="2"/>
<line x1="758.0" y1="401.3" x2="758.0" y2="395.3" stroke="#000" stroke-width="2"/>
<line x1="758.0" y1="246.0" x2="758.0" y2="252.0" stroke="#000" stroke-width="2"/>
<line x1="861.0" y1="401.3" x2="861.0" y2="395.3" stroke="#000" stroke-width="2"/>
<line x1="861.0" y1="246.0" x2="861.0" y2="252.0" stroke="#000" stroke-width="2"/>
<line x1="603.5" y1="401.3" x2="603.5" y2="397.8" stroke="#000" stroke-width="2"/>
<line x1="603.5" y1="246.0" x2="603.5" y2="249.5" stroke="#000" stroke-width="2"/>
<line x1="706.5" y1="401.3" x2="706.5" y2="397.8" stroke="#000" stroke-width="2"/>
<line x1="706.5" y1="246.0" x2="706.5" y2="249.5" stroke="#000" stroke-width="2"/>
<line x1="809.5" y1="401.3" x2="809.5" y2="397.8" stroke="#000" stroke-width="2"/>
<line x1="809.5" y1="246.0" x2="809.5" y2="249.5" stroke="#000" stroke-width="2"/>
<line x1="552.0" y1="381.7" x2="558.0" y2="381.7" stroke="#000" stroke-width="2"/>
<line x1="861.0" y1="381.7" x2="855.0" y2="381.7" stroke="#000" stroke-width="2"/>
<line x1="552.0" y1="323.4" x2="558.0" y2="323.4" stroke="#000" stroke-width="2"/>
<line x1="861.0" y1="323.4" x2="855.0" y2="323.4" stroke="#000" stroke-width="2"/>
<line x1="552.0" y1="265.1" x2="558.0" y2="265.1" stroke="#000" stroke-width="2"/>
<line x1="861.0" y1="265.1" x2="855.0" y2="265.1" stroke="#000" stroke-width="2"/>
<line x1="552.0" y1="352.6" x2="555.5" y2="352.6" stroke="#000" stroke-width="2"/>
<line x1="861.0" y1="352.6" x2="857.5" y2="352.6" stroke="#000" stroke-width="2"/>
<line x1="552.0" y1="294.3" x2="555.5" y2="294.3" stroke="#000" stroke-width="2"/>
<line x1="861.0" y1="294.3" x2="857.5" y2="294.3" stroke="#000" stroke-width="2"/>
<path d="M575.3,358.1h7v7h-7zM577.9,358.1h7v7h-7zM580.5,358.3h7v7h-7zM583.1,358.6h7v7h-7zM585.7,359.0h7v7h-7zM588.3,359.4h7v7h-7zM590.9,360.0h7v7h-7zM593.5,360.6h7v7h-7zM596.1,361.3h7v7h-7zM598.7,362.1h7v7h-7zM601.3,362.9h7v7h-7zM603.9,363.8h7v7h-7zM606.5,364.6h7v7h-7zM609.1,365.5h7v7h-7zM611.7,366.4h7v7h-7zM614.3,367.4h7v7h-7zM616.9,368.3h7v7h-7zM619.5,369.2h7v7h-7zM622.1,370.0h7v7h-7zM624.7,370.8h7v7h-7zM627.3,371.6h7v7h-7zM629.9,372.4h7v7h-7zM632.5,373.1h7v7h-7zM635.1,373.7h7v7h-7zM637.7,374.3h7v7h-7zM640.3,374.9h7v7h-7zM642.9,375.4h7v7h-7zM645.5,375.9h7v7h-7zM648.1,376.3h7v7h-7zM650.7,376.7h7v7h-7zM653.3,377.1h7v7h-7zM655.9,377.5h7v7h-7zM658.5,377.8h7v7h-7zM661.1,378.2h7v7h-7zM663.7,378.5h7v7h-7zM666.3,378.8h7v7h-7zM668.9,379.0h7v7h-7zM671.5,379.3h7v7h-7zM674.1,379.6h7v7h-7zM676.7,379.9h7v7h-7zM679.3,380.1h7v7h-7zM681.9,380.4h7v7h-7zM684.5,380.7h7v7h-7zM687.1,381.0h7v7h-7zM689.7,381.3h7v7h-7zM692.3,381.5h7v7h-7zM694.9,381.8h7v7h-7zM697.5,382.0h7v7h-7zM700.1,382.2h7v7h-7zM702.7,382.4h7v7h-7zM705.3,382.6h7v7h-7zM707.9,382.7h7v7h-7zM710.5,382.7h7v7h-7zM713.1,382.7h7v7h-7zM715.7,382.7h7v7h-7zM718.3,382.5h7v7h-7zM720.9,382.4h7v7h-7zM723.5,382.1h7v7h-7zM726.1,381.8h7v7h-7zM728.7,381.4h7v7h-7zM731.3,380.9h7v7h-7zM733.9,380.3h7v7h-7zM736.5,379.6h7v7h-7zM739.1,378.8h7v7h-7zM741.7,377.9h7v7h-7zM744.3,376.9h7v7h-7zM746.9,375.8h7v7h-7zM749.5,374.6h7v7h-7zM752.1,373.4h7v7h-7zM754.7,372.1h7v7h-7zM757.3,370.7h7v7h-7zM759.9,369.2h7v7h-7zM762.5,367.6h7v7h-7zM765.1,366.1h7v7h-7zM767.7,364.4h7v7h-7zM770.3,362.7h7v7h-7zM772.9,360.9h7v7h-7zM775.5,359.1h7v7h-7zM778.1,357.2h7v7h-7zM780.7,355.2h7v7h-7zM783.3,353.1h7v7h-7zM785.9,350.9h7v7h-7zM788.5,348.6h7v7h-7zM791.1,346.3h7v7h-7zM793.7,343.8h7v7h-7zM796.3,341.3h7v7h-7zM798.9,338.7h7v7h-7zM801.5,335.9h7v7h-7zM804.1,333.2h7v7h-7zM806.7,330.3h7v7h-7zM809.3,327.4h7v7h-7zM811.9,324.4h7v7h-7zM814.5,321.3h7v7h-7zM817.1,318.1h7v7h-7zM819.7,314.9h7v7h-7zM822.3,311.6h7v7h-7zM824.9,308.2h7v7h-7zM827.5,304.7h7v7h-7zM830.1,301.1h7v7h-7zM832.7,297.5h7v7h-7zM835.3,293.7h7v7h-7zM837.9,289.9h7v7h-7zM840.5,286.0h7v7h-7zM843.1,281.9h7v7h-7zM845.7,277.8h7v7h-7zM848.3,273.5h7v7h-7zM850.9,269.2h7v7h-7zM853.5,264.8h7v7h-7zM856.1,260.2h7v7h-7z" fill="#0000ff"/>
<rect x="552.0" y="246.0" width="309.0" height="155.3" fill="none" stroke="#000" stroke-width="2"/>
<text x="542.5" y="390.7" font-size="32" text-anchor="end">1.5</text>
<text x="542.5" y="332.4" font-size="32" text-anchor="end">1.8</text>
<text x="542.5" y="274.1" font-size="32" text-anchor="end">2.1</text>
<text x="552.0" y="435.0" font-size="32" text-anchor="middle">0</text>
<text x="655.0" y="435.0" font-size="32" text-anchor="middle">10</text>
<text x="758.0" y="435.0" font-size="32" text-anchor="middle">20</text>
<text x="861.0" y="435.0" font-size="32" text-anchor="middle">30</text>
<text x="655.3" y="291.2" font-size="32">3 x 10<tspan font-size="18" dy="-16">18</tspan></text>
<text x="828.4" y="392.3" font-size="37">f</text>
<line x1="552.0" y1="619.6" x2="552.0" y2="613.6" stroke="#000" stroke-width="2"/>
<line x1="552.0" y1="463.5" x2="552.0" y2="469.5" stroke="#000" stroke-width="2"/>
<line x1="706.5" y1="619.6" x2="706.5" y2="613.6" stroke="#000" stroke-width="2"/>
<line x1="706.5" y1="463.5" x2="706.5" y2="469.5" stroke="#000" stroke-width="2"/>
<line x1="861.0" y1="619.6" x2="861.0" y2="613.6" stroke="#000" stroke-width="2"/>
<line x1="861.0" y1="463.5" x2="861.0" y2="469.5" stroke="#000" stroke-width="2"/>
<line x1="629.2" y1="619.6" x2="629.2" y2="616.1" stroke="#000" stroke-width="2"/>
<line x1="629.2" y1="463.5" x2="629.2" y2="467.0" stroke="#000" stroke-width="2"/>
<line x1="783.8" y1="619.6" x2="783.8" y2="616.1" stroke="#000" stroke-width="2"/>
<line x1="783.8" y1="463.5" x2="783.8" y2="467.0" stroke="#000" stroke-width="2"/>
<line x1="552.0" y1="571.4" x2="558.0" y2="571.4" stroke="#000" stroke-width="2"/>
<line x1="861.0" y1="571.4" x2="855.0" y2="571.4" stroke="#000" stroke-width="2"/>
<line x1="552.0" y1="517.5" x2="558.0" y2="517.5" stroke="#000" stroke-width="2"/>
<line x1="861.0" y1="517.5" x2="855.0" y2="517.5" stroke="#000" stroke-width="2"/>
<line x1="552.0" y1="463.5" x2="558.0" y2="463.5" stroke="#000" stroke-width="2"/>
<line x1="861.0" y1="463.5" x2="855.0" y2="463.5" stroke="#000" stroke-width="2"/>
<line x1="552.0" y1="598.4" x2="555.5" y2="598.4" stroke="#000" stroke-width="2"/>
<line x1="861.0" y1="598.4" x2="857.5" y2="598.4" stroke="#000" stroke-width="2"/>
<line x1="552.0" y1="544.4" x2="555.5" y2="544.4" stroke="#000" stroke-width="2"/>
<line x1="861.0" y1="544.4" x2="857.5" y2="544.4" stroke="#000" stroke-width="2"/>
<line x1="552.0" y1="490.5" x2="555.5" y2="490.5" stroke="#000" stroke-width="2"/>
<line x1="861.0" y1="490.5" x2="857.5" y2="490.5" stroke="#000" stroke-width="2"/>
<path d="M585.6,589.1h7v7h-7zM588.2,589.2h7v7h-7zM590.8,589.2h7v7h-7zM593.4,589.3h7v7h-7zM596.0,589.3h7v7h-7zM598.6,589.3h7v7h-7zM601.3,589.3h7v7h-7zM603.9,589.2h7v7h-7zM606.5,589.2h7v7h-7zM609.1,589.1h7v7h-7zM611.7,589.0h7v7h-7zM614.3,588.9h7v7h-7zM616.9,588.8h7v7h-7zM619.5,588.7h7v7h-7zM622.1,588.5h7v7h-7zM624.7,588.3h7v7h-7zM627.4,588.1h7v7h-7zM630.0,587.9h7v7h-7zM632.6,587.7h7v7h-7zM635.2,587.4h7v7h-7zM637.8,587.1h7v7h-7zM640.4,586.8h7v7h-7zM643.0,586.5h7v7h-7zM645.6,586.2h7v7h-7zM648.2,585.8h7v7h-7zM650.8,585.5h7v7h-7zM653.5,585.1h7v7h-7zM656.1,584.7h7v7h-7zM658.7,584.2h7v7h-7zM661.3,583.8h7v7h-7zM663.9,583.3h7v7h-7zM666.5,582.8h7v7h-7zM669.1,582.3h7v7h-7zM671.7,581.8h7v7h-7zM674.3,581.2h7v7h-7zM676.9,580.6h7v7h-7zM679.5,580.0h7v7h-7zM682.2,579.4h7v7h-7zM684.8,578.8h7v7h-7zM687.4,578.1h7v7h-7zM690.0,577.5h7v7h-7zM692.6,576.8h7v7h-7zM695.2,576.1h7v7h-7zM697.8,575.3h7v7h-7zM700.4,574.6h7v7h-7zM703.0,573.8h7v7h-7zM705.6,573.0h7v7h-7zM708.3,572.2h7v7h-7zM710.9,571.3h7v7h-7zM713.5,570.5h7v7h-7zM716.1,569.6h7v7h-7zM718.7,568.7h7v7h-7zM721.3,567.7h7v7h-7zM723.9,566.8h7v7h-7zM726.5,565.8h7v7h-7zM729.1,564.8h7v7h-7zM731.7,563.8h7v7h-7zM734.3,562.8h7v7h-7zM737.0,561.7h7v7h-7zM739.6,560.6h7v7h-7zM742.2,559.5h7v7h-7zM744.8,558.4h7v7h-7zM747.4,557.2h7v7h-7zM750.0,556.1h7v7h-7zM752.6,554.9h7v7h-7zM755.2,553.7h7v7h-7zM757.8,552.5h7v7h-7zM760.4,551.2h7v7h-7zM763.1,550.0h7v7h-7zM765.7,548.7h7v7h-7zM768.3,547.4h7v7h-7zM770.9,546.1h7v7h-7zM773.5,544.7h7v7h-7zM776.1,543.4h7v7h-7zM778.7,542.0h7v7h-7zM781.3,540.6h7v7h-7zM783.9,539.2h7v7h-7zM786.5,537.8h7v7h-7zM789.1,536.4h7v7h-7zM791.8,534.9h7v7h-7zM794.4,533.4h7v7h-7zM797.0,532.0h7v7h-7zM799.6,530.5h7v7h-7zM802.2,528.9h7v7h-7zM804.8,527.4h7v7h-7zM807.4,525.9h7v7h-7zM810.0,524.3h7v7h-7zM812.6,522.7h7v7h-7zM815.2,521.1h7v7h-7zM817.9,519.5h7v7h-7zM820.5,517.9h7v7h-7zM823.1,516.3h7v7h-7zM825.7,514.6h7v7h-7zM828.3,513.0h7v7h-7zM830.9,511.3h7v7h-7zM833.5,509.6h7v7h-7zM836.1,507.9h7v7h-7zM838.7,506.2h7v7h-7zM841.3,504.5h7v7h-7zM844.0,502.8h7v7h-7zM846.6,501.0h7v7h-7zM849.2,499.3h7v7h-7zM851.8,497.5h7v7h-7zM854.4,495.8h7v7h-7zM857.0,494.0h7v7h-7z" fill="#0000ff"/>
<rect x="552.0" y="463.5" width="309.0" height="156.1" fill="none" stroke="#000" stroke-width="2"/>
<text x="542.5" y="580.4" font-size="32" text-anchor="end">0.6</text>
<text x="542.5" y="526.5" font-size="32" text-anchor="end">0.7</text>
<text x="542.5" y="472.5" font-size="32" text-anchor="end">0.8</text>
<text x="552.0" y="654.0" font-size="32" text-anchor="middle">0</text>
<text x="706.5" y="654.0" font-size="32" text-anchor="middle">10</text>
<text x="861.0" y="654.0" font-size="32" text-anchor="middle">20</text>
<text x="719.0" y="503.5" font-size="32">7.7 x 10<tspan font-size="18" dy="-16">18</tspan></text>
<text x="823.1" y="596.3" font-size="37">g</text>
<line x1="552.0" y1="836.5" x2="552.0" y2="830.5" stroke="#000" stroke-width="2"/>
<line x1="552.0" y1="681.6" x2="552.0" y2="687.6" stroke="#000" stroke-width="2"/>
<line x1="706.5" y1="836.5" x2="706.5" y2="830.5" stroke="#000" stroke-width="2"/>
<line x1="706.5" y1="681.6" x2="706.5" y2="687.6" stroke="#000" stroke-width="2"/>
<line x1="861.0" y1="836.5" x2="861.0" y2="830.5" stroke="#000" stroke-width="2"/>
<line x1="861.0" y1="681.6" x2="861.0" y2="687.6" stroke="#000" stroke-width="2"/>
<line x1="629.2" y1="836.5" x2="629.2" y2="833.0" stroke="#000" stroke-width="2"/>
<line x1="629.2" y1="681.6" x2="629.2" y2="685.1" stroke="#000" stroke-width="2"/>
<line x1="783.8" y1="836.5" x2="783.8" y2="833.0" stroke="#000" stroke-width="2"/>
<line x1="783.8" y1="681.6" x2="783.8" y2="685.1" stroke="#000" stroke-width="2"/>
<line x1="552.0" y1="836.5" x2="558.0" y2="836.5" stroke="#000" stroke-width="2"/>
<line x1="861.0" y1="836.5" x2="855.0" y2="836.5" stroke="#000" stroke-width="2"/>
<line x1="552.0" y1="774.3" x2="558.0" y2="774.3" stroke="#000" stroke-width="2"/>
<line x1="861.0" y1="774.3" x2="855.0" y2="774.3" stroke="#000" stroke-width="2"/>
<line x1="552.0" y1="712.2" x2="558.0" y2="712.2" stroke="#000" stroke-width="2"/>
<line x1="861.0" y1="712.2" x2="855.0" y2="712.2" stroke="#000" stroke-width="2"/>
<line x1="552.0" y1="805.4" x2="555.5" y2="805.4" stroke="#000" stroke-width="2"/>
<line x1="861.0" y1="805.4" x2="857.5" y2="805.4" stroke="#000" stroke-width="2"/>
<line x1="552.0" y1="743.3" x2="555.5" y2="743.3" stroke="#000" stroke-width="2"/>
<line x1="861.0" y1="743.3" x2="857.5" y2="743.3" stroke="#000" stroke-width="2"/>
<line x1="552.0" y1="681.1" x2="555.5" y2="681.1" stroke="#000" stroke-width="2"/>
<line x1="861.0" y1="681.1" x2="857.5" y2="681.1" stroke="#000" stroke-width="2"/>
<rect x="644.5" y="808.5" width="6" height="6" fill="#0000ff"/>
<rect x="652.8" y="807.6" width="6" height="6" fill="#0000ff"/>
<rect x="661.1" y="806.3" width="6" height="6" fill="#0000ff"/>
<rect x="669.3" y="805.2" width="6" height="6" fill="#0000ff"/>
<rect x="677.6" y="803.5" width="6" height="6" fill="#0000ff"/>
<rect x="685.9" y="802.0" width="6" height="6" fill="#0000ff"/>
<rect x="694.2" y="799.6" width="6" height="6" fill="#0000ff"/>
<rect x="702.5" y="797.4" width="6" height="6" fill="#0000ff"/>
<rect x="710.7" y="795.0" width="6" height="6" fill="#0000ff"/>
<rect x="718.5" y="791.9" width="6" height="6" fill="#0000ff"/>
<rect x="726.4" y="788.8" width="6" height="6" fill="#0000ff"/>
<rect x="734.7" y="785.8" width="6" height="6" fill="#0000ff"/>
<rect x="743.0" y="781.8" width="6" height="6" fill="#0000ff"/>
<rect x="750.7" y="777.7" width="6" height="6" fill="#0000ff"/>
<rect x="759.2" y="773.1" width="6" height="6" fill="#0000ff"/>
<rect x="767.4" y="768.9" width="6" height="6" fill="#0000ff"/>
<rect x="775.2" y="763.9" width="6" height="6" fill="#0000ff"/>
<rect x="783.5" y="758.8" width="6" height="6" fill="#0000ff"/>
<rect x="791.7" y="752.9" width="6" height="6" fill="#0000ff"/>
<rect x="800.0" y="747.4" width="6" height="6" fill="#0000ff"/>
<rect x="807.9" y="741.3" width="6" height="6" fill="#0000ff"/>
<rect x="816.0" y="734.9" width="6" height="6" fill="#0000ff"/>
<rect x="823.9" y="728.4" width="6" height="6" fill="#0000ff"/>
<rect x="832.2" y="721.1" width="6" height="6" fill="#0000ff"/>
<rect x="840.5" y="714.2" width="6" height="6" fill="#0000ff"/>
<rect x="848.8" y="706.3" width="6" height="6" fill="#0000ff"/>
<rect x="856.2" y="699.0" width="6" height="6" fill="#0000ff"/>
<rect x="552.0" y="681.6" width="309.0" height="154.9" fill="none" stroke="#000" stroke-width="2"/>
<text x="542.5" y="845.5" font-size="32" text-anchor="end">0.45</text>
<text x="542.5" y="783.3" font-size="32" text-anchor="end">0.46</text>
<text x="542.5" y="721.2" font-size="32" text-anchor="end">0.47</text>
<text x="552.0" y="875.5" font-size="32" text-anchor="middle">0</text>
<text x="706.5" y="875.5" font-size="32" text-anchor="middle">3</text>
<text x="861.0" y="875.5" font-size="32" text-anchor="middle">6</text>
<text x="637.5" y="724.0" font-size="32">9.8 x 10<tspan font-size="18" dy="-16">18</tspan></text>
<text x="822.8" y="820.0" font-size="37">h</text>
<line x1="979.0" y1="192.8" x2="979.0" y2="186.8" stroke="#000" stroke-width="2"/>
<line x1="979.0" y1="37.5" x2="979.0" y2="43.5" stroke="#000" stroke-width="2"/>
<line x1="1133.2" y1="192.8" x2="1133.2" y2="186.8" stroke="#000" stroke-width="2"/>
<line x1="1133.2" y1="37.5" x2="1133.2" y2="43.5" stroke="#000" stroke-width="2"/>
<line x1="1287.5" y1="192.8" x2="1287.5" y2="186.8" stroke="#000" stroke-width="2"/>
<line x1="1287.5" y1="37.5" x2="1287.5" y2="43.5" stroke="#000" stroke-width="2"/>
<line x1="1056.1" y1="192.8" x2="1056.1" y2="189.3" stroke="#000" stroke-width="2"/>
<line x1="1056.1" y1="37.5" x2="1056.1" y2="41.0" stroke="#000" stroke-width="2"/>
<line x1="1210.4" y1="192.8" x2="1210.4" y2="189.3" stroke="#000" stroke-width="2"/>
<line x1="1210.4" y1="37.5" x2="1210.4" y2="41.0" stroke="#000" stroke-width="2"/>
<line x1="979.0" y1="192.8" x2="985.0" y2="192.8" stroke="#000" stroke-width="2"/>
<line x1="1287.5" y1="192.8" x2="1281.5" y2="192.8" stroke="#000" stroke-width="2"/>
<line x1="979.0" y1="134.8" x2="985.0" y2="134.8" stroke="#000" stroke-width="2"/>
<line x1="1287.5" y1="134.8" x2="1281.5" y2="134.8" stroke="#000" stroke-width="2"/>
<line x1="979.0" y1="76.7" x2="985.0" y2="76.7" stroke="#000" stroke-width="2"/>
<line x1="1287.5" y1="76.7" x2="1281.5" y2="76.7" stroke="#000" stroke-width="2"/>
<line x1="979.0" y1="163.8" x2="982.5" y2="163.8" stroke="#000" stroke-width="2"/>
<line x1="1287.5" y1="163.8" x2="1284.0" y2="163.8" stroke="#000" stroke-width="2"/>
<line x1="979.0" y1="105.7" x2="982.5" y2="105.7" stroke="#000" stroke-width="2"/>
<line x1="1287.5" y1="105.7" x2="1284.0" y2="105.7" stroke="#000" stroke-width="2"/>
<line x1="979.0" y1="47.7" x2="982.5" y2="47.7" stroke="#000" stroke-width="2"/>
<line x1="1287.5" y1="47.7" x2="1284.0" y2="47.7" stroke="#000" stroke-width="2"/>
<path d="M992.1,181.8h7v7h-7zM994.7,181.0h7v7h-7zM997.3,180.3h7v7h-7zM999.9,179.6h7v7h-7zM1002.5,179.0h7v7h-7zM1005.1,178.3h7v7h-7zM1007.7,177.7h7v7h-7zM1010.3,177.2h7v7h-7zM1012.9,176.6h7v7h-7zM1015.5,176.0h7v7h-7zM1018.1,175.5h7v7h-7zM1020.7,175.0h7v7h-7zM1023.3,174.5h7v7h-7zM1025.9,174.0h7v7h-7zM1028.5,173.5h7v7h-7zM1031.1,173.0h7v7h-7zM1033.7,172.5h7v7h-7zM1036.3,172.0h7v7h-7zM1038.9,171.5h7v7h-7zM1041.5,170.9h7v7h-7zM1044.1,170.4h7v7h-7zM1046.7,169.8h7v7h-7zM1049.3,169.3h7v7h-7zM1051.9,168.7h7v7h-7zM1054.5,168.1h7v7h-7zM1057.1,167.4h7v7h-7zM1059.7,166.7h7v7h-7zM1062.3,166.0h7v7h-7zM1064.9,165.3h7v7h-7zM1067.5,164.6h7v7h-7zM1070.1,163.8h7v7h-7zM1072.7,163.0h7v7h-7zM1075.3,162.3h7v7h-7zM1077.9,161.5h7v7h-7zM1080.5,160.8h7v7h-7zM1083.1,160.0h7v7h-7zM1085.7,159.3h7v7h-7zM1088.3,158.6h7v7h-7zM1090.9,158.0h7v7h-7zM1093.5,157.4h7v7h-7zM1096.1,156.9h7v7h-7zM1098.7,156.4h7v7h-7zM1101.3,156.0h7v7h-7zM1103.9,155.6h7v7h-7zM1106.5,155.3h7v7h-7zM1109.1,155.1h7v7h-7zM1111.7,155.0h7v7h-7zM1114.3,154.8h7v7h-7zM1116.9,154.8h7v7h-7zM1119.5,154.7h7v7h-7zM1122.1,154.6h7v7h-7zM1124.7,154.6h7v7h-7zM1127.3,154.5h7v7h-7zM1129.9,154.3h7v7h-7zM1132.5,154.1h7v7h-7zM1135.1,153.9h7v7h-7zM1137.8,153.6h7v7h-7zM1140.4,153.2h7v7h-7zM1143.0,152.7h7v7h-7zM1145.6,152.2h7v7h-7zM1148.2,151.6h7v7h-7zM1150.8,150.8h7v7h-7zM1153.4,150.0h7v7h-7zM1156.0,149.1h7v7h-7zM1158.6,148.1h7v7h-7zM1161.2,146.9h7v7h-7zM1163.8,145.7h7v7h-7zM1166.4,144.3h7v7h-7zM1169.0,142.8h7v7h-7zM1171.6,141.3h7v7h-7zM1174.2,139.6h7v7h-7zM1176.8,137.9h7v7h-7zM1179.4,136.0h7v7h-7zM1182.0,134.1h7v7h-7zM1184.6,132.1h7v7h-7zM1187.2,130.1h7v7h-7zM1189.8,128.0h7v7h-7zM1192.4,125.8h7v7h-7zM1195.0,123.6h7v7h-7zM1197.6,121.3h7v7h-7zM1200.2,119.0h7v7h-7zM1202.8,116.6h7v7h-7zM1205.4,114.3h7v7h-7zM1208.0,111.9h7v7h-7zM1210.6,109.4h7v7h-7zM1213.2,107.0h7v7h-7zM1215.8,104.5h7v7h-7zM1218.4,102.0h7v7h-7zM1221.0,99.6h7v7h-7zM1223.6,97.1h7v7h-7zM1226.2,94.6h7v7h-7zM1228.8,92.2h7v7h-7zM1231.4,89.7h7v7h-7zM1234.0,87.2h7v7h-7zM1236.6,84.7h7v7h-7zM1239.2,82.1h7v7h-7zM1241.8,79.6h7v7h-7zM1244.4,76.9h7v7h-7zM1247.0,74.2h7v7h-7zM1249.6,71.5h7v7h-7zM1252.2,68.6h7v7h-7zM1254.8,65.7h7v7h-7zM1257.4,62.7h7v7h-7zM1260.0,59.6h7v7h-7zM1262.6,56.4h7v7h-7zM1265.2,53.2h7v7h-7zM1267.8,50.0h7v7h-7zM1270.4,46.8h7v7h-7zM1273.0,43.7h7v7h-7zM1275.6,40.7h7v7h-7zM1278.2,37.8h7v7h-7zM1280.8,35.0h7v7h-7z" fill="#ff0000"/>
<rect x="979.0" y="37.5" width="308.5" height="155.3" fill="none" stroke="#000" stroke-width="2"/>
<text x="970.0" y="201.8" font-size="32" text-anchor="end">6</text>
<text x="970.0" y="143.8" font-size="32" text-anchor="end">9</text>
<text x="970.0" y="85.7" font-size="32" text-anchor="end">12</text>
<text x="979.0" y="227.0" font-size="32" text-anchor="middle">0</text>
<text x="1133.2" y="227.0" font-size="32" text-anchor="middle">20</text>
<text x="1287.5" y="227.0" font-size="32" text-anchor="middle">40</text>
<text x="1045.9" y="78.3" font-size="32">8.3 x 10<tspan font-size="18" dy="-16">17</tspan></text>
<text x="1260.8" y="177.2" font-size="37">i</text>
<line x1="979.0" y1="401.3" x2="979.0" y2="395.3" stroke="#000" stroke-width="2"/>
<line x1="979.0" y1="246.0" x2="979.0" y2="252.0" stroke="#000" stroke-width="2"/>
<line x1="1133.2" y1="401.3" x2="1133.2" y2="395.3" stroke="#000" stroke-width="2"/>
<line x1="1133.2" y1="246.0" x2="1133.2" y2="252.0" stroke="#000" stroke-width="2"/>
<line x1="1287.5" y1="401.3" x2="1287.5" y2="395.3" stroke="#000" stroke-width="2"/>
<line x1="1287.5" y1="246.0" x2="1287.5" y2="252.0" stroke="#000" stroke-width="2"/>
<line x1="1056.1" y1="401.3" x2="1056.1" y2="397.8" stroke="#000" stroke-width="2"/>
<line x1="1056.1" y1="246.0" x2="1056.1" y2="249.5" stroke="#000" stroke-width="2"/>
<line x1="1210.4" y1="401.3" x2="1210.4" y2="397.8" stroke="#000" stroke-width="2"/>
<line x1="1210.4" y1="246.0" x2="1210.4" y2="249.5" stroke="#000" stroke-width="2"/>
<line x1="979.0" y1="401.3" x2="985.0" y2="401.3" stroke="#000" stroke-width="2"/>
<line x1="1287.5" y1="401.3" x2="1281.5" y2="401.3" stroke="#000" stroke-width="2"/>
<line x1="979.0" y1="323.6" x2="985.0" y2="323.6" stroke="#000" stroke-width="2"/>
<line x1="1287.5" y1="323.6" x2="1281.5" y2="323.6" stroke="#000" stroke-width="2"/>
<line x1="979.0" y1="246.0" x2="985.0" y2="246.0" stroke="#000" stroke-width="2"/>
<line x1="1287.5" y1="246.0" x2="1281.5" y2="246.0" stroke="#000" stroke-width="2"/>
<line x1="979.0" y1="362.5" x2="982.5" y2="362.5" stroke="#000" stroke-width="2"/>
<line x1="1287.5" y1="362.5" x2="1284.0" y2="362.5" stroke="#000" stroke-width="2"/>
<line x1="979.0" y1="284.8" x2="982.5" y2="284.8" stroke="#000" stroke-width="2"/>
<line x1="1287.5" y1="284.8" x2="1284.0" y2="284.8" stroke="#000" stroke-width="2"/>
<path d="M994.5,343.8h7v7h-7zM997.1,344.2h7v7h-7zM999.7,344.7h7v7h-7zM1002.3,345.3h7v7h-7zM1004.9,345.9h7v7h-7zM1007.5,346.5h7v7h-7zM1010.0,347.2h7v7h-7zM1012.6,348.0h7v7h-7zM1015.2,348.8h7v7h-7zM1017.8,349.7h7v7h-7zM1020.4,350.6h7v7h-7zM1023.0,351.5h7v7h-7zM1025.6,352.5h7v7h-7zM1028.2,353.5h7v7h-7zM1030.8,354.5h7v7h-7zM1033.4,355.6h7v7h-7zM1035.9,356.7h7v7h-7zM1038.5,357.8h7v7h-7zM1041.1,358.9h7v7h-7zM1043.7,360.0h7v7h-7zM1046.3,361.2h7v7h-7zM1048.9,362.3h7v7h-7zM1051.5,363.5h7v7h-7zM1054.1,364.6h7v7h-7zM1056.7,365.8h7v7h-7zM1059.3,366.9h7v7h-7zM1061.8,368.1h7v7h-7zM1064.4,369.2h7v7h-7zM1067.0,370.3h7v7h-7zM1069.6,371.4h7v7h-7zM1072.2,372.5h7v7h-7zM1074.8,373.6h7v7h-7zM1077.4,374.6h7v7h-7zM1080.0,375.6h7v7h-7zM1082.6,376.6h7v7h-7zM1085.2,377.5h7v7h-7zM1087.7,378.4h7v7h-7zM1090.3,379.3h7v7h-7zM1092.9,380.1h7v7h-7zM1095.5,380.8h7v7h-7zM1098.1,381.6h7v7h-7zM1100.7,382.2h7v7h-7zM1103.3,382.8h7v7h-7zM1105.9,383.4h7v7h-7zM1108.5,383.8h7v7h-7zM1111.1,384.3h7v7h-7zM1113.6,384.6h7v7h-7zM1116.2,384.9h7v7h-7zM1118.8,385.1h7v7h-7zM1121.4,385.2h7v7h-7zM1124.0,385.2h7v7h-7zM1126.6,385.2h7v7h-7zM1129.2,385.1h7v7h-7zM1131.8,384.8h7v7h-7zM1134.4,384.5h7v7h-7zM1137.0,384.1h7v7h-7zM1139.5,383.6h7v7h-7zM1142.1,383.0h7v7h-7zM1144.7,382.3h7v7h-7zM1147.3,381.4h7v7h-7zM1149.9,380.5h7v7h-7zM1152.5,379.4h7v7h-7zM1155.1,378.3h7v7h-7zM1157.7,377.0h7v7h-7zM1160.3,375.6h7v7h-7zM1162.9,374.1h7v7h-7zM1165.4,372.6h7v7h-7zM1168.0,370.9h7v7h-7zM1170.6,369.1h7v7h-7zM1173.2,367.3h7v7h-7zM1175.8,365.4h7v7h-7zM1178.4,363.3h7v7h-7zM1181.0,361.3h7v7h-7zM1183.6,359.1h7v7h-7zM1186.2,356.9h7v7h-7zM1188.8,354.6h7v7h-7zM1191.3,352.2h7v7h-7zM1193.9,349.8h7v7h-7zM1196.5,347.4h7v7h-7zM1199.1,344.9h7v7h-7zM1201.7,342.3h7v7h-7zM1204.3,339.7h7v7h-7zM1206.9,337.1h7v7h-7zM1209.5,334.4h7v7h-7zM1212.1,331.7h7v7h-7zM1214.7,329.0h7v7h-7zM1217.2,326.2h7v7h-7zM1219.8,323.4h7v7h-7zM1222.4,320.7h7v7h-7zM1225.0,317.8h7v7h-7zM1227.6,315.0h7v7h-7zM1230.2,312.2h7v7h-7zM1232.8,309.3h7v7h-7zM1235.4,306.4h7v7h-7zM1238.0,303.5h7v7h-7zM1240.6,300.5h7v7h-7zM1243.1,297.5h7v7h-7zM1245.7,294.4h7v7h-7zM1248.3,291.4h7v7h-7zM1250.9,288.2h7v7h-7zM1253.5,285.0h7v7h-7zM1256.1,281.8h7v7h-7zM1258.7,278.5h7v7h-7zM1261.3,275.2h7v7h-7zM1263.9,271.7h7v7h-7zM1266.5,268.3h7v7h-7zM1269.0,264.7h7v7h-7zM1271.6,261.1h7v7h-7zM1274.2,257.4h7v7h-7zM1276.8,253.6h7v7h-7zM1279.4,249.8h7v7h-7zM1282.0,245.9h7v7h-7z" fill="#ff0000"/>
<rect x="979.0" y="246.0" width="308.5" height="155.3" fill="none" stroke="#000" stroke-width="2"/>
<text x="970.0" y="410.3" font-size="32" text-anchor="end">1.2</text>
<text x="970.0" y="332.6" font-size="32" text-anchor="end">1.6</text>
<text x="970.0" y="255.0" font-size="32" text-anchor="end">2.0</text>
<text x="979.0" y="435.5" font-size="32" text-anchor="middle">0</text>
<text x="1133.2" y="435.5" font-size="32" text-anchor="middle">20</text>
<text x="1287.5" y="435.5" font-size="32" text-anchor="middle">40</text>
<text x="1050.6" y="291.2" font-size="32">7.2 x 10<tspan font-size="18" dy="-16">18</tspan></text>
<text x="1261.0" y="388.0" font-size="37">j</text>
<line x1="979.0" y1="617.1" x2="979.0" y2="611.1" stroke="#000" stroke-width="2"/>
<line x1="979.0" y1="462.0" x2="979.0" y2="468.0" stroke="#000" stroke-width="2"/>
<line x1="1102.4" y1="617.1" x2="1102.4" y2="611.1" stroke="#000" stroke-width="2"/>
<line x1="1102.4" y1="462.0" x2="1102.4" y2="468.0" stroke="#000" stroke-width="2"/>
<line x1="1225.8" y1="617.1" x2="1225.8" y2="611.1" stroke="#000" stroke-width="2"/>
<line x1="1225.8" y1="462.0" x2="1225.8" y2="468.0" stroke="#000" stroke-width="2"/>
<line x1="1040.7" y1="617.1" x2="1040.7" y2="613.6" stroke="#000" stroke-width="2"/>
<line x1="1040.7" y1="462.0" x2="1040.7" y2="465.5" stroke="#000" stroke-width="2"/>
<line x1="1164.1" y1="617.1" x2="1164.1" y2="613.6" stroke="#000" stroke-width="2"/>
<line x1="1164.1" y1="462.0" x2="1164.1" y2="465.5" stroke="#000" stroke-width="2"/>
<line x1="1287.5" y1="617.1" x2="1287.5" y2="613.6" stroke="#000" stroke-width="2"/>
<line x1="1287.5" y1="462.0" x2="1287.5" y2="465.5" stroke="#000" stroke-width="2"/>
<line x1="979.0" y1="572.7" x2="985.0" y2="572.7" stroke="#000" stroke-width="2"/>
<line x1="1287.5" y1="572.7" x2="1281.5" y2="572.7" stroke="#000" stroke-width="2"/>
<line x1="979.0" y1="517.4" x2="985.0" y2="517.4" stroke="#000" stroke-width="2"/>
<line x1="1287.5" y1="517.4" x2="1281.5" y2="517.4" stroke="#000" stroke-width="2"/>
<line x1="979.0" y1="462.0" x2="985.0" y2="462.0" stroke="#000" stroke-width="2"/>
<line x1="1287.5" y1="462.0" x2="1281.5" y2="462.0" stroke="#000" stroke-width="2"/>
<line x1="979.0" y1="600.4" x2="982.5" y2="600.4" stroke="#000" stroke-width="2"/>
<line x1="1287.5" y1="600.4" x2="1284.0" y2="600.4" stroke="#000" stroke-width="2"/>
<line x1="979.0" y1="545.0" x2="982.5" y2="545.0" stroke="#000" stroke-width="2"/>
<line x1="1287.5" y1="545.0" x2="1284.0" y2="545.0" stroke="#000" stroke-width="2"/>
<line x1="979.0" y1="489.7" x2="982.5" y2="489.7" stroke="#000" stroke-width="2"/>
<line x1="1287.5" y1="489.7" x2="1284.0" y2="489.7" stroke="#000" stroke-width="2"/>
<rect x="1003.4" y="524.6" width="6" height="6" fill="#ff0000"/>
<rect x="1009.2" y="525.6" width="6" height="6" fill="#ff0000"/>
<rect x="1016.9" y="529.4" width="6" height="6" fill="#ff0000"/>
<rect x="1029.8" y="534.3" width="6" height="6" fill="#ff0000"/>
<rect x="1041.1" y="540.1" width="6" height="6" fill="#ff0000"/>
<rect x="1050.1" y="544.9" width="6" height="6" fill="#ff0000"/>
<rect x="1065.2" y="552.3" width="6" height="6" fill="#ff0000"/>
<rect x="1072.6" y="556.2" width="6" height="6" fill="#ff0000"/>
<rect x="1079.1" y="560.0" width="6" height="6" fill="#ff0000"/>
<rect x="1084.5" y="563.2" width="6" height="6" fill="#ff0000"/>
<rect x="1091.0" y="567.1" width="6" height="6" fill="#ff0000"/>
<rect x="1100.0" y="572.3" width="6" height="6" fill="#ff0000"/>
<rect x="1106.4" y="575.5" width="6" height="6" fill="#ff0000"/>
<rect x="1112.2" y="578.1" width="6" height="6" fill="#ff0000"/>
<rect x="1118.7" y="580.6" width="6" height="6" fill="#ff0000"/>
<rect x="1125.1" y="582.6" width="6" height="6" fill="#ff0000"/>
<rect x="1131.6" y="584.5" width="6" height="6" fill="#ff0000"/>
<rect x="1138.0" y="586.4" width="6" height="6" fill="#ff0000"/>
<rect x="1144.4" y="587.4" width="6" height="6" fill="#ff0000"/>
<rect x="1149.9" y="587.7" width="6" height="6" fill="#ff0000"/>
<rect x="1156.4" y="587.7" width="6" height="6" fill="#ff0000"/>
<rect x="1161.2" y="587.1" width="6" height="6" fill="#ff0000"/>
<rect x="1167.0" y="586.1" width="6" height="6" fill="#ff0000"/>
<rect x="1174.1" y="584.5" width="6" height="6" fill="#ff0000"/>
<rect x="1180.5" y="582.6" width="6" height="6" fill="#ff0000"/>
<rect x="1186.3" y="580.3" width="6" height="6" fill="#ff0000"/>
<rect x="1192.8" y="576.1" width="6" height="6" fill="#ff0000"/>
<rect x="1199.2" y="572.3" width="6" height="6" fill="#ff0000"/>
<rect x="1205.6" y="568.1" width="6" height="6" fill="#ff0000"/>
<rect x="1212.1" y="562.6" width="6" height="6" fill="#ff0000"/>
<rect x="1217.6" y="556.8" width="6" height="6" fill="#ff0000"/>
<rect x="1224.0" y="549.7" width="6" height="6" fill="#ff0000"/>
<rect x="1230.4" y="543.3" width="6" height="6" fill="#ff0000"/>
<rect x="1236.9" y="535.2" width="6" height="6" fill="#ff0000"/>
<rect x="1242.4" y="528.8" width="6" height="6" fill="#ff0000"/>
<rect x="1248.8" y="519.4" width="6" height="6" fill="#ff0000"/>
<rect x="1255.2" y="510.4" width="6" height="6" fill="#ff0000"/>
<rect x="1261.7" y="500.8" width="6" height="6" fill="#ff0000"/>
<rect x="1267.5" y="491.8" width="6" height="6" fill="#ff0000"/>
<rect x="1273.3" y="482.1" width="6" height="6" fill="#ff0000"/>
<rect x="1279.7" y="470.8" width="6" height="6" fill="#ff0000"/>
<rect x="1284.5" y="461.2" width="6" height="6" fill="#ff0000"/>
<rect x="979.0" y="462.0" width="308.5" height="155.1" fill="none" stroke="#000" stroke-width="2"/>
<text x="970.0" y="581.7" font-size="32" text-anchor="end">0.90</text>
<text x="970.0" y="526.4" font-size="32" text-anchor="end">0.95</text>
<text x="970.0" y="471.0" font-size="32" text-anchor="end">1.00</text>
<text x="979.0" y="652.3" font-size="32" text-anchor="middle">0</text>
<text x="1102.4" y="652.3" font-size="32" text-anchor="middle">10</text>
<text x="1225.8" y="652.3" font-size="32" text-anchor="middle">20</text>
<text x="1053.8" y="502.5" font-size="32">1.3 x 10<tspan font-size="18" dy="-16">19</tspan></text>
<text x="1254.4" y="596.0" font-size="37">k</text>
<line x1="979.0" y1="836.5" x2="979.0" y2="830.5" stroke="#000" stroke-width="2"/>
<line x1="979.0" y1="681.6" x2="979.0" y2="687.6" stroke="#000" stroke-width="2"/>
<line x1="1133.2" y1="836.5" x2="1133.2" y2="830.5" stroke="#000" stroke-width="2"/>
<line x1="1133.2" y1="681.6" x2="1133.2" y2="687.6" stroke="#000" stroke-width="2"/>
<line x1="1287.5" y1="836.5" x2="1287.5" y2="830.5" stroke="#000" stroke-width="2"/>
<line x1="1287.5" y1="681.6" x2="1287.5" y2="687.6" stroke="#000" stroke-width="2"/>
<line x1="1056.1" y1="836.5" x2="1056.1" y2="833.0" stroke="#000" stroke-width="2"/>
<line x1="1056.1" y1="681.6" x2="1056.1" y2="685.1" stroke="#000" stroke-width="2"/>
<line x1="1210.4" y1="836.5" x2="1210.4" y2="833.0" stroke="#000" stroke-width="2"/>
<line x1="1210.4" y1="681.6" x2="1210.4" y2="685.1" stroke="#000" stroke-width="2"/>
<line x1="979.0" y1="836.5" x2="985.0" y2="836.5" stroke="#000" stroke-width="2"/>
<line x1="1287.5" y1="836.5" x2="1281.5" y2="836.5" stroke="#000" stroke-width="2"/>
<line x1="979.0" y1="781.3" x2="985.0" y2="781.3" stroke="#000" stroke-width="2"/>
<line x1="1287.5" y1="781.3" x2="1281.5" y2="781.3" stroke="#000" stroke-width="2"/>
<line x1="979.0" y1="726.0" x2="985.0" y2="726.0" stroke="#000" stroke-width="2"/>
<line x1="1287.5" y1="726.0" x2="1281.5" y2="726.0" stroke="#000" stroke-width="2"/>
<line x1="979.0" y1="808.9" x2="982.5" y2="808.9" stroke="#000" stroke-width="2"/>
<line x1="1287.5" y1="808.9" x2="1284.0" y2="808.9" stroke="#000" stroke-width="2"/>
<line x1="979.0" y1="753.6" x2="982.5" y2="753.6" stroke="#000" stroke-width="2"/>
<line x1="1287.5" y1="753.6" x2="1284.0" y2="753.6" stroke="#000" stroke-width="2"/>
<line x1="979.0" y1="698.4" x2="982.5" y2="698.4" stroke="#000" stroke-width="2"/>
<line x1="1287.5" y1="698.4" x2="1284.0" y2="698.4" stroke="#000" stroke-width="2"/>
<rect x="1071.7" y="794.8" width="6" height="6" fill="#ff0000"/>
<rect x="1080.0" y="794.2" width="6" height="6" fill="#ff0000"/>
<rect x="1088.1" y="793.2" width="6" height="6" fill="#ff0000"/>
<rect x="1096.1" y="791.9" width="6" height="6" fill="#ff0000"/>
<rect x="1104.2" y="790.3" width="6" height="6" fill="#ff0000"/>
<rect x="1112.2" y="788.7" width="6" height="6" fill="#ff0000"/>
<rect x="1120.3" y="786.8" width="6" height="6" fill="#ff0000"/>
<rect x="1128.3" y="784.5" width="6" height="6" fill="#ff0000"/>
<rect x="1136.4" y="782.0" width="6" height="6" fill="#ff0000"/>
<rect x="1144.4" y="779.4" width="6" height="6" fill="#ff0000"/>
<rect x="1152.5" y="776.5" width="6" height="6" fill="#ff0000"/>
<rect x="1160.5" y="773.6" width="6" height="6" fill="#ff0000"/>
<rect x="1168.6" y="769.7" width="6" height="6" fill="#ff0000"/>
<rect x="1176.7" y="765.9" width="6" height="6" fill="#ff0000"/>
<rect x="1184.7" y="762.0" width="6" height="6" fill="#ff0000"/>
<rect x="1192.8" y="757.8" width="6" height="6" fill="#ff0000"/>
<rect x="1200.8" y="753.0" width="6" height="6" fill="#ff0000"/>
<rect x="1208.9" y="748.8" width="6" height="6" fill="#ff0000"/>
<rect x="1217.6" y="743.3" width="6" height="6" fill="#ff0000"/>
<rect x="1225.6" y="738.2" width="6" height="6" fill="#ff0000"/>
<rect x="1233.7" y="733.3" width="6" height="6" fill="#ff0000"/>
<rect x="1241.7" y="727.2" width="6" height="6" fill="#ff0000"/>
<rect x="1249.8" y="720.8" width="6" height="6" fill="#ff0000"/>
<rect x="1257.8" y="713.4" width="6" height="6" fill="#ff0000"/>
<rect x="1265.9" y="706.9" width="6" height="6" fill="#ff0000"/>
<rect x="1273.9" y="699.8" width="6" height="6" fill="#ff0000"/>
<rect x="1282.0" y="691.8" width="6" height="6" fill="#ff0000"/>
<rect x="979.0" y="681.6" width="308.5" height="154.9" fill="none" stroke="#000" stroke-width="2"/>
<text x="970.0" y="845.5" font-size="32" text-anchor="end">0.465</text>
<text x="970.0" y="790.3" font-size="32" text-anchor="end">0.470</text>
<text x="970.0" y="735.0" font-size="32" text-anchor="end">0.475</text>
<text x="979.0" y="875.0" font-size="32" text-anchor="middle">0</text>
<text x="1133.2" y="875.0" font-size="32" text-anchor="middle">3</text>
<text x="1287.5" y="875.0" font-size="32" text-anchor="middle">6</text>
<text x="1049.0" y="723.5" font-size="32">1.9 x 10<tspan font-size="18" dy="-16">19</tspan></text>
<text x="1259.8" y="819.4" font-size="37">l</text>
<rect x="579.7" y="584.9" width="75.9" height="16.6" fill="none" stroke="#808080" stroke-width="1.2"/>
<line x1="581" y1="580.8" x2="606.6" y2="563.5" stroke="#333" stroke-width="1" stroke-dasharray="1.5 1.5"/>
<line x1="658.4" y1="562.2" x2="658.4" y2="584.2" stroke="#999" stroke-width="1.2" stroke-dasharray="1.5 1.5"/>
<rect x="611.7" y="474.2" width="98.4" height="73.7" fill="#fff" stroke="#555" stroke-width="1.2"/>
<line x1="628.1" y1="547.9" x2="628.1" y2="545.4" stroke="#555" stroke-width="1"/>
<line x1="628.1" y1="474.2" x2="628.1" y2="476.7" stroke="#555" stroke-width="1"/>
<line x1="644.5" y1="547.9" x2="644.5" y2="543.9" stroke="#555" stroke-width="1"/>
<line x1="644.5" y1="474.2" x2="644.5" y2="478.2" stroke="#555" stroke-width="1"/>
<line x1="660.9" y1="547.9" x2="660.9" y2="545.4" stroke="#555" stroke-width="1"/>
<line x1="660.9" y1="474.2" x2="660.9" y2="476.7" stroke="#555" stroke-width="1"/>
<line x1="677.3" y1="547.9" x2="677.3" y2="543.9" stroke="#555" stroke-width="1"/>
<line x1="677.3" y1="474.2" x2="677.3" y2="478.2" stroke="#555" stroke-width="1"/>
<line x1="693.7" y1="547.9" x2="693.7" y2="545.4" stroke="#555" stroke-width="1"/>
<line x1="693.7" y1="474.2" x2="693.7" y2="476.7" stroke="#555" stroke-width="1"/>
<line x1="611.7" y1="492.7" x2="614.2" y2="492.7" stroke="#555" stroke-width="1"/>
<line x1="710.1" y1="492.7" x2="707.6" y2="492.7" stroke="#555" stroke-width="1"/>
<line x1="611.7" y1="511.4" x2="615.7" y2="511.4" stroke="#555" stroke-width="1"/>
<line x1="710.1" y1="511.4" x2="706.1" y2="511.4" stroke="#555" stroke-width="1"/>
<line x1="611.7" y1="530.4" x2="614.2" y2="530.4" stroke="#555" stroke-width="1"/>
<line x1="710.1" y1="530.4" x2="707.6" y2="530.4" stroke="#555" stroke-width="1"/>
<rect x="623.1" y="520.5" width="5.5" height="5.5" fill="#0000ff"/>
<rect x="628.3" y="522.4" width="5.5" height="5.5" fill="#0000ff"/>
<rect x="633.4" y="523.7" width="5.5" height="5.5" fill="#0000ff"/>
<rect x="638.5" y="524.2" width="5.5" height="5.5" fill="#0000ff"/>
<rect x="643.6" y="524.0" width="5.5" height="5.5" fill="#0000ff"/>
<rect x="648.7" y="523.1" width="5.5" height="5.5" fill="#0000ff"/>
<rect x="653.8" y="521.6" width="5.5" height="5.5" fill="#0000ff"/>
<rect x="658.9" y="519.3" width="5.5" height="5.5" fill="#0000ff"/>
<rect x="664.0" y="516.3" width="5.5" height="5.5" fill="#0000ff"/>
<rect x="669.1" y="512.6" width="5.5" height="5.5" fill="#0000ff"/>
<rect x="674.2" y="508.2" width="5.5" height="5.5" fill="#0000ff"/>
<rect x="679.3" y="503.2" width="5.5" height="5.5" fill="#0000ff"/>
<rect x="684.4" y="497.4" width="5.5" height="5.5" fill="#0000ff"/>
<rect x="689.5" y="490.9" width="5.5" height="5.5" fill="#0000ff"/>
<rect x="694.6" y="483.7" width="5.5" height="5.5" fill="#0000ff"/>
<rect x="699.8" y="475.8" width="5.5" height="5.5" fill="#0000ff"/>
<text x="607.5" y="481.5" font-size="20.5" text-anchor="end">0.561</text>
<text x="607.5" y="518.7" font-size="20.5" text-anchor="end">0.560</text>
<text x="607.5" y="555.2" font-size="20.5" text-anchor="end">0.559</text>
<text x="611.7" y="571.3" font-size="24" text-anchor="middle">2</text>
<text x="644.5" y="571.3" font-size="24" text-anchor="middle">3</text>
<text x="677.3" y="571.3" font-size="24" text-anchor="middle">4</text>
<text x="710.1" y="571.3" font-size="24" text-anchor="middle">5</text>
<text x="289.5" y="22.4" font-size="31.5" font-style="italic" text-anchor="middle">x=0.22%</text>
<text x="696.5" y="22.5" font-size="31.5" font-style="italic" text-anchor="middle">x=0.45%</text>
<text x="1124.7" y="22.5" font-size="31.5" font-style="italic" text-anchor="middle">x=0.9%</text>
<text x="291.2" y="918.7" font-size="40" text-anchor="middle">T (K)</text>
<text x="706.4" y="918.7" font-size="40" text-anchor="middle">T (K)</text>
<text x="1133.6" y="918.7" font-size="40" text-anchor="middle">T (K)</text>
<text transform="translate(29.5,432) rotate(-90)" font-size="40" text-anchor="middle"><tspan font-family='"Liberation Serif", serif' font-style="italic">ρ</tspan> (mΩ.cm)</text>
<line x1="304.7" y1="1524.5" x2="639.5" y2="1365.3" stroke="#808080" stroke-width="5" stroke-linecap="butt" />
<line x1="639.5" y1="1365.3" x2="997.2" y2="1525.9" stroke="#808080" stroke-width="5" stroke-linecap="butt" />
<line x1="303.7" y1="1494.0" x2="640.4" y2="1337.4" stroke="#808080" stroke-width="5" stroke-linecap="butt" stroke-dasharray="6 3"/>
<line x1="640.4" y1="1337.4" x2="1000.6" y2="1496.0" stroke="#808080" stroke-width="5" stroke-linecap="butt" stroke-dasharray="6 3"/>
<line x1="302.6" y1="1463.2" x2="641.4" y2="1309.1" stroke="#808080" stroke-width="5" stroke-linecap="butt" />
<line x1="641.4" y1="1309.1" x2="1003.9" y2="1465.6" stroke="#808080" stroke-width="5" stroke-linecap="butt" />
<line x1="301.5" y1="1432.0" x2="642.4" y2="1280.6" stroke="#808080" stroke-width="5" stroke-linecap="butt" stroke-dasharray="6 3"/>
<line x1="642.4" y1="1280.6" x2="1007.3" y2="1434.9" stroke="#808080" stroke-width="5" stroke-linecap="butt" stroke-dasharray="6 3"/>
<line x1="300.4" y1="1400.3" x2="643.4" y2="1251.7" stroke="#808080" stroke-width="5" stroke-linecap="butt" />
<line x1="643.4" y1="1251.7" x2="1010.7" y2="1403.8" stroke="#808080" stroke-width="5" stroke-linecap="butt" />
<line x1="299.3" y1="1368.3" x2="644.4" y2="1222.5" stroke="#808080" stroke-width="5" stroke-linecap="butt" stroke-dasharray="6 3"/>
<line x1="644.4" y1="1222.5" x2="1014.2" y2="1372.3" stroke="#808080" stroke-width="5" stroke-linecap="butt" stroke-dasharray="6 3"/>
<line x1="298.2" y1="1335.8" x2="645.4" y2="1192.9" stroke="#808080" stroke-width="5" stroke-linecap="butt" />
<line x1="645.4" y1="1192.9" x2="1017.7" y2="1340.4" stroke="#808080" stroke-width="5" stroke-linecap="butt" />
<line x1="297.1" y1="1302.9" x2="646.4" y2="1163.0" stroke="#808080" stroke-width="5" stroke-linecap="butt" stroke-dasharray="6 3"/>
<line x1="646.4" y1="1163.0" x2="1021.3" y2="1308.0" stroke="#808080" stroke-width="5" stroke-linecap="butt" stroke-dasharray="6 3"/>
<line x1="295.9" y1="1269.5" x2="647.4" y2="1132.7" stroke="#808080" stroke-width="5" stroke-linecap="butt" />
<line x1="647.4" y1="1132.7" x2="1024.9" y2="1275.3" stroke="#808080" stroke-width="5" stroke-linecap="butt" />
<line x1="294.8" y1="1235.7" x2="648.5" y2="1102.1" stroke="#808080" stroke-width="5" stroke-linecap="butt" stroke-dasharray="6 3"/>
<line x1="648.5" y1="1102.1" x2="1028.6" y2="1242.1" stroke="#808080" stroke-width="5" stroke-linecap="butt" stroke-dasharray="6 3"/>
<line x1="293.6" y1="1201.5" x2="649.6" y2="1071.1" stroke="#808080" stroke-width="5" stroke-linecap="butt" />
<line x1="649.6" y1="1071.1" x2="1032.3" y2="1208.4" stroke="#808080" stroke-width="5" stroke-linecap="butt" />
<line x1="292.4" y1="1166.8" x2="650.6" y2="1039.8" stroke="#808080" stroke-width="5" stroke-linecap="butt" stroke-dasharray="6 3"/>
<line x1="650.6" y1="1039.8" x2="1036.0" y2="1174.4" stroke="#808080" stroke-width="5" stroke-linecap="butt" stroke-dasharray="6 3"/>
<line x1="291.2" y1="1131.6" x2="651.7" y2="1008.0" stroke="#808080" stroke-width="5" stroke-linecap="butt" />
<line x1="651.7" y1="1008.0" x2="1039.8" y2="1139.8" stroke="#808080" stroke-width="5" stroke-linecap="butt" />
<line x1="418.4" y1="1499.9" x2="413.6" y2="1055.0" stroke="#808080" stroke-width="5" stroke-linecap="butt" />
<line x1="418.4" y1="1499.9" x2="780.8" y2="1690.0" stroke="#808080" stroke-width="5" stroke-linecap="butt" />
<line x1="522.8" y1="1449.1" x2="527.5" y2="1017.4" stroke="#808080" stroke-width="5" stroke-linecap="butt" stroke-dasharray="6 3"/>
<line x1="522.8" y1="1449.1" x2="882.4" y2="1625.9" stroke="#808080" stroke-width="5" stroke-linecap="butt" stroke-dasharray="6 3"/>
<line x1="665.5" y1="1405.3" x2="682.2" y2="985.6" stroke="#808080" stroke-width="5" stroke-linecap="butt" />
<line x1="333.1" y1="1569.9" x2="665.5" y2="1405.3" stroke="#808080" stroke-width="5" stroke-linecap="butt" />
<line x1="692.9" y1="1417.8" x2="712.2" y2="995.5" stroke="#808080" stroke-width="5" stroke-linecap="butt" stroke-dasharray="6 3"/>
<line x1="360.9" y1="1585.6" x2="692.9" y2="1417.8" stroke="#808080" stroke-width="5" stroke-linecap="butt" stroke-dasharray="6 3"/>
<line x1="720.7" y1="1430.5" x2="742.6" y2="1005.5" stroke="#808080" stroke-width="5" stroke-linecap="butt" />
<line x1="389.2" y1="1601.5" x2="720.7" y2="1430.5" stroke="#808080" stroke-width="5" stroke-linecap="butt" />
<line x1="749.1" y1="1443.5" x2="773.6" y2="1015.7" stroke="#808080" stroke-width="5" stroke-linecap="butt" stroke-dasharray="6 3"/>
<line x1="418.1" y1="1617.8" x2="749.1" y2="1443.5" stroke="#808080" stroke-width="5" stroke-linecap="butt" stroke-dasharray="6 3"/>
<line x1="777.9" y1="1456.7" x2="805.2" y2="1026.2" stroke="#808080" stroke-width="5" stroke-linecap="butt" />
<line x1="447.5" y1="1634.3" x2="777.9" y2="1456.7" stroke="#808080" stroke-width="5" stroke-linecap="butt" />
<line x1="807.2" y1="1470.1" x2="837.4" y2="1036.8" stroke="#808080" stroke-width="5" stroke-linecap="butt" stroke-dasharray="6 3"/>
<line x1="477.5" y1="1651.2" x2="807.2" y2="1470.1" stroke="#808080" stroke-width="5" stroke-linecap="butt" stroke-dasharray="6 3"/>
<line x1="837.0" y1="1483.7" x2="870.2" y2="1047.6" stroke="#808080" stroke-width="5" stroke-linecap="butt" />
<line x1="508.1" y1="1668.4" x2="837.0" y2="1483.7" stroke="#808080" stroke-width="5" stroke-linecap="butt" />
<line x1="867.3" y1="1497.6" x2="903.6" y2="1058.6" stroke="#808080" stroke-width="5" stroke-linecap="butt" stroke-dasharray="6 3"/>
<line x1="539.3" y1="1686.0" x2="867.3" y2="1497.6" stroke="#808080" stroke-width="5" stroke-linecap="butt" stroke-dasharray="6 3"/>
<line x1="898.1" y1="1511.7" x2="937.6" y2="1069.8" stroke="#808080" stroke-width="5" stroke-linecap="butt" />
<line x1="571.1" y1="1703.9" x2="898.1" y2="1511.7" stroke="#808080" stroke-width="5" stroke-linecap="butt" />
<line x1="929.5" y1="1526.0" x2="972.3" y2="1081.3" stroke="#808080" stroke-width="5" stroke-linecap="butt" stroke-dasharray="6 3"/>
<line x1="603.5" y1="1722.1" x2="929.5" y2="1526.0" stroke="#808080" stroke-width="5" stroke-linecap="butt" stroke-dasharray="6 3"/>
<line x1="961.5" y1="1540.6" x2="1007.6" y2="1092.9" stroke="#808080" stroke-width="5" stroke-linecap="butt" />
<line x1="636.6" y1="1740.8" x2="961.5" y2="1540.6" stroke="#808080" stroke-width="5" stroke-linecap="butt" />
<line x1="305.8" y1="1554.5" x2="638.5" y2="1392.9" stroke="#000" stroke-width="1.2" stroke-linecap="butt" />
<line x1="638.5" y1="1392.9" x2="652.8" y2="975.9" stroke="#000" stroke-width="1.2" stroke-linecap="butt" />
<line x1="638.5" y1="1392.9" x2="994.0" y2="1555.5" stroke="#000" stroke-width="1.2" stroke-linecap="butt" />
<line x1="345.3" y1="1524.0" x2="347.6" y2="1517.8" stroke="#808080" stroke-width="4.5" stroke-linecap="butt" />
<line x1="348.4" y1="1498.7" x2="351.5" y2="1481.0" stroke="#808080" stroke-width="4.5" stroke-linecap="butt" />
<line x1="353.0" y1="1461.0" x2="357.6" y2="1445.8" stroke="#808080" stroke-width="4.5" stroke-linecap="butt" />
<line x1="377.5" y1="1379.8" x2="384.4" y2="1364.5" stroke="#808080" stroke-width="4.5" stroke-linecap="butt" />
<line x1="427.7" y1="1273.2" x2="437.9" y2="1256.3" stroke="#808080" stroke-width="4.5" stroke-linecap="butt" />
<line x1="447.1" y1="1237.7" x2="458.1" y2="1221.7" stroke="#808080" stroke-width="4.5" stroke-linecap="butt" />
<line x1="469.9" y1="1204.0" x2="479.2" y2="1191.3" stroke="#808080" stroke-width="4.5" stroke-linecap="butt" />
<line x1="491.1" y1="1170.9" x2="501.3" y2="1156.3" stroke="#808080" stroke-width="4.5" stroke-linecap="butt" />
<line x1="513.0" y1="1138.8" x2="526.1" y2="1124.3" stroke="#808080" stroke-width="4.5" stroke-linecap="butt" />
<line x1="536.3" y1="1106.8" x2="548.0" y2="1093.7" stroke="#808080" stroke-width="4.5" stroke-linecap="butt" />
<line x1="559.6" y1="1078.4" x2="570.5" y2="1066.0" stroke="#808080" stroke-width="4.5" stroke-linecap="butt" />
<line x1="582.9" y1="1048.5" x2="594.6" y2="1035.4" stroke="#808080" stroke-width="4.5" stroke-linecap="butt" />
<line x1="605.5" y1="1020.8" x2="617.9" y2="1007.7" stroke="#808080" stroke-width="4.5" stroke-linecap="butt" />
<line x1="629.6" y1="993.8" x2="641.2" y2="982.2" stroke="#808080" stroke-width="4.5" stroke-linecap="butt" />
<line x1="305.8" y1="1554.5" x2="289.9" y2="1095.9" stroke="#000" stroke-width="6" stroke-linecap="round" />
<line x1="289.9" y1="1095.9" x2="652.8" y2="975.9" stroke="#000" stroke-width="6" stroke-linecap="round" />
<line x1="652.8" y1="975.9" x2="1043.7" y2="1104.8" stroke="#000" stroke-width="6" stroke-linecap="round" />
<line x1="994.0" y1="1555.5" x2="1043.7" y2="1104.8" stroke="#000" stroke-width="6.5" stroke-linecap="round" />
<line x1="305.8" y1="1554.5" x2="670.4" y2="1759.8" stroke="#000" stroke-width="5.5" stroke-linecap="round" />
<line x1="670.4" y1="1759.8" x2="994.0" y2="1555.5" stroke="#000" stroke-width="5.5" stroke-linecap="round" />
<line x1="305.8" y1="1554.5" x2="295.2" y2="1559.6" stroke="#000" stroke-width="5" stroke-linecap="round" />
<line x1="333.1" y1="1569.9" x2="326.3" y2="1573.3" stroke="#000" stroke-width="5" stroke-linecap="round" />
<line x1="360.9" y1="1585.6" x2="350.4" y2="1590.9" stroke="#000" stroke-width="5" stroke-linecap="round" />
<line x1="389.2" y1="1601.5" x2="382.5" y2="1605.0" stroke="#000" stroke-width="5" stroke-linecap="round" />
<line x1="418.1" y1="1617.8" x2="407.6" y2="1623.3" stroke="#000" stroke-width="5" stroke-linecap="round" />
<line x1="447.5" y1="1634.3" x2="440.8" y2="1638.0" stroke="#000" stroke-width="5" stroke-linecap="round" />
<line x1="477.5" y1="1651.2" x2="467.0" y2="1657.0" stroke="#000" stroke-width="5" stroke-linecap="round" />
<line x1="508.1" y1="1668.4" x2="501.4" y2="1672.2" stroke="#000" stroke-width="5" stroke-linecap="round" />
<line x1="539.3" y1="1686.0" x2="528.8" y2="1692.0" stroke="#000" stroke-width="5" stroke-linecap="round" />
<line x1="571.1" y1="1703.9" x2="564.4" y2="1707.8" stroke="#000" stroke-width="5" stroke-linecap="round" />
<line x1="603.5" y1="1722.1" x2="593.1" y2="1728.4" stroke="#000" stroke-width="5" stroke-linecap="round" />
<line x1="636.6" y1="1740.8" x2="629.9" y2="1744.9" stroke="#000" stroke-width="5" stroke-linecap="round" />
<line x1="670.4" y1="1759.8" x2="660.0" y2="1766.3" stroke="#000" stroke-width="5" stroke-linecap="round" />
<line x1="670.4" y1="1759.8" x2="681.9" y2="1766.2" stroke="#000" stroke-width="5" stroke-linecap="round" />
<line x1="720.1" y1="1728.3" x2="729.1" y2="1733.2" stroke="#000" stroke-width="5" stroke-linecap="round" />
<line x1="770.2" y1="1696.7" x2="779.2" y2="1701.5" stroke="#000" stroke-width="5" stroke-linecap="round" />
<line x1="780.8" y1="1690.0" x2="789.8" y2="1694.7" stroke="#000" stroke-width="5" stroke-linecap="round" />
<line x1="862.8" y1="1638.3" x2="871.6" y2="1642.7" stroke="#000" stroke-width="5" stroke-linecap="round" />
<line x1="882.4" y1="1625.9" x2="891.2" y2="1630.3" stroke="#000" stroke-width="5" stroke-linecap="round" />
<line x1="976.1" y1="1566.8" x2="984.8" y2="1570.8" stroke="#000" stroke-width="5" stroke-linecap="round" />
<line x1="994.0" y1="1555.5" x2="1005.0" y2="1560.6" stroke="#000" stroke-width="5" stroke-linecap="round" />
<line x1="997.2" y1="1525.9" x2="1004.4" y2="1529.1" stroke="#000" stroke-width="5" stroke-linecap="round" />
<line x1="1000.6" y1="1496.0" x2="1011.8" y2="1500.9" stroke="#000" stroke-width="5" stroke-linecap="round" />
<line x1="1003.9" y1="1465.6" x2="1011.2" y2="1468.8" stroke="#000" stroke-width="5" stroke-linecap="round" />
<line x1="1007.3" y1="1434.9" x2="1018.7" y2="1439.7" stroke="#000" stroke-width="5" stroke-linecap="round" />
<line x1="1010.7" y1="1403.8" x2="1018.1" y2="1406.8" stroke="#000" stroke-width="5" stroke-linecap="round" />
<line x1="1014.2" y1="1372.3" x2="1025.7" y2="1377.0" stroke="#000" stroke-width="5" stroke-linecap="round" />
<line x1="1017.7" y1="1340.4" x2="1025.2" y2="1343.3" stroke="#000" stroke-width="5" stroke-linecap="round" />
<line x1="1021.3" y1="1308.0" x2="1033.0" y2="1312.6" stroke="#000" stroke-width="5" stroke-linecap="round" />
<line x1="1024.9" y1="1275.3" x2="1032.5" y2="1278.1" stroke="#000" stroke-width="5" stroke-linecap="round" />
<line x1="1028.6" y1="1242.1" x2="1040.5" y2="1246.5" stroke="#000" stroke-width="5" stroke-linecap="round" />
<line x1="1032.3" y1="1208.4" x2="1040.0" y2="1211.2" stroke="#000" stroke-width="5" stroke-linecap="round" />
<line x1="1036.0" y1="1174.4" x2="1048.1" y2="1178.6" stroke="#000" stroke-width="5" stroke-linecap="round" />
<line x1="1039.8" y1="1139.8" x2="1047.7" y2="1142.5" stroke="#000" stroke-width="5" stroke-linecap="round" />
<line x1="1043.7" y1="1104.8" x2="1056.0" y2="1108.9" stroke="#000" stroke-width="5" stroke-linecap="round" />
<circle cx="305.4" cy="1554.6" r="10.0" fill="url(#gk)"/>
<circle cx="353.8" cy="1527.1" r="10.0" fill="url(#gk)"/>
<circle cx="368.7" cy="1387.2" r="10.0" fill="url(#gk)"/>
<circle cx="391.7" cy="1338.4" r="10.0" fill="url(#gk)"/>
<circle cx="405.0" cy="1309.4" r="10.0" fill="url(#gk)"/>
<circle cx="486.6" cy="1192.5" r="10.0" fill="url(#gk)"/>
<circle cx="553.5" cy="1110.0" r="10.0" fill="url(#gk)"/>
<circle cx="621.1" cy="1052.9" r="10.0" fill="url(#gk)"/>
<circle cx="639.7" cy="1025.9" r="10.0" fill="url(#gk)"/>
<circle cx="361.4" cy="1417.4" r="10.5" fill="url(#gg)"/>
<circle cx="366.0" cy="1441.9" r="10.5" fill="url(#gg)"/>
<circle cx="391.3" cy="1467.5" r="10.5" fill="url(#gg)"/>
<circle cx="404.4" cy="1512.5" r="10.5" fill="url(#gg)"/>
<circle cx="395.2" cy="1518.6" r="10.5" fill="url(#gg)"/>
<circle cx="411.0" cy="1560.0" r="10.5" fill="url(#gg)"/>
<circle cx="414.7" cy="1284.5" r="10.5" fill="url(#gb)"/>
<circle cx="412.4" cy="1326.4" r="10.5" fill="url(#gb)"/>
<circle cx="439.2" cy="1326.1" r="10.5" fill="url(#gb)"/>
<circle cx="418.5" cy="1347.6" r="10.5" fill="url(#gb)"/>
<circle cx="442.7" cy="1402.8" r="10.5" fill="url(#gb)"/>
<circle cx="493.3" cy="1514.0" r="10.5" fill="url(#gb)"/>
<circle cx="517.1" cy="1563.1" r="10.5" fill="url(#gb)"/>
<circle cx="512.5" cy="1164.5" r="10.5" fill="url(#gr)"/>
<circle cx="521.8" cy="1169.3" r="10.5" fill="url(#gr)"/>
<circle cx="547.2" cy="1239.8" r="10.5" fill="url(#gr)"/>
<circle cx="553.4" cy="1264.7" r="10.5" fill="url(#gr)"/>
<circle cx="586.8" cy="1284.6" r="10.5" fill="url(#gr)"/>
<circle cx="653.6" cy="1423.4" r="10.5" fill="url(#gr)"/>
<circle cx="734.7" cy="1573.8" r="10.5" fill="url(#gr)"/>
<line x1="359.9" y1="1410.5" x2="409.8" y2="1556.2" stroke="#00ff00" stroke-width="3.5" stroke-linecap="butt" />
<line x1="403.0" y1="1310.0" x2="517.9" y2="1565.4" stroke="#0000ff" stroke-width="3.5" stroke-linecap="butt" />
<line x1="519.0" y1="1163.0" x2="742.8" y2="1588.3" stroke="#ff0000" stroke-width="3.5" stroke-linecap="butt" />
<rect x="280" y="975" width="259" height="71" fill="#fff"/>
<text y="1018.9" font-size="43"><tspan x="286.5">Sr</tspan><tspan x="330" y="1033.4" font-size="22" font-style="italic">1-x</tspan><tspan x="363.3" y="1018.9">Ca</tspan><tspan x="418" y="1033.4" font-size="22" font-style="italic">x</tspan><tspan x="430.3" y="1018.9">TiO</tspan><tspan x="500" y="1033.4" font-size="22" font-style="italic">3-</tspan><tspan font-size="27" font-style="italic" font-family="&quot;Liberation Serif&quot;, serif">δ</tspan></text>
<rect x="697" y="960" width="298" height="216" fill="#fff"/>
<circle cx="733.5" cy="1016.3" r="13.7" fill="url(#lk)"/>
<circle cx="733.5" cy="1063.4" r="13.7" fill="url(#lg)"/>
<circle cx="733.5" cy="1110.8" r="13.7" fill="url(#lb)"/>
<circle cx="733.5" cy="1157.4" r="13.7" fill="url(#lr)"/>
<text x="778" y="1026.1" font-size="34.5" font-style="italic"><tspan font-family="&quot;Liberation Serif&quot;, serif" font-size="39">δ</tspan><tspan x="802.5">=0</tspan></text>
<text x="778.5" y="1073.3" font-size="34.5" font-style="italic">x=0.22%<tspan x="925" font-family="&quot;Liberation Serif&quot;, serif" font-size="39">δ</tspan><tspan x="942"> &gt;0</tspan></text>
<text x="778.5" y="1120.6" font-size="34.5" font-style="italic">x=0.45%<tspan x="925" font-family="&quot;Liberation Serif&quot;, serif" font-size="39">δ</tspan><tspan x="942"> &gt;0</tspan></text>
<text x="778.5" y="1167.7" font-size="34.5" font-style="italic">x=0.9%<tspan x="922" font-family="&quot;Liberation Serif&quot;, serif" font-size="39">δ</tspan><tspan x="939"> &gt;0</tspan></text>
<text transform="matrix(0.9446,-0.4585,0.8682,0.4962,280.9,1565.8)" font-size="33" text-anchor="middle" y="11.9" font-weight="bold">0</text>
<text transform="matrix(0.9372,-0.4735,0.8684,0.4959,337.2,1597.0)" font-size="33" text-anchor="middle" y="11.9" font-weight="bold">5</text>
<text transform="matrix(0.9290,-0.4894,0.8671,0.4981,386.3,1635.0)" font-size="33" text-anchor="middle" y="11.9" font-weight="bold">10</text>
<text transform="matrix(0.9201,-0.5059,0.8671,0.4981,446.0,1669.5)" font-size="33" text-anchor="middle" y="11.9" font-weight="bold">15</text>
<text transform="matrix(0.9098,-0.5242,0.8662,0.4996,504.8,1710.7)" font-size="33" text-anchor="middle" y="11.9" font-weight="bold">20</text>
<text transform="matrix(0.8990,-0.5424,0.8662,0.4996,569.2,1747.7)" font-size="33" text-anchor="middle" y="11.9" font-weight="bold">25</text>
<text transform="matrix(0.8876,-0.5610,0.8666,0.4989,636.8,1783.2)" font-size="33" text-anchor="middle" y="11.9" font-weight="bold">30</text>
<text transform="matrix(1.0106,0.5694,-0.8363,0.5482,721.5,1790.3)" font-size="35" text-anchor="middle" y="12.6" font-weight="bold" fill="#000">0.00</text>
<text transform="matrix(1.0183,0.5556,-0.8325,0.5541,792.7,1768.7)" font-size="35" text-anchor="middle" y="12.6" font-weight="bold" fill="#00ff00">0.0022</text>
<text transform="matrix(1.0256,0.5420,-0.8322,0.5545,843.8,1736.5)" font-size="35" text-anchor="middle" y="12.6" font-weight="bold" fill="#0000ff">0.0045</text>
<text transform="matrix(1.0412,0.5114,-0.8367,0.5477,932.9,1649.5)" font-size="35" text-anchor="middle" y="12.6" font-weight="bold" fill="#000">0.01</text>
<text transform="matrix(1.0385,0.5168,-0.8346,0.5508,924.0,1668.0)" font-size="35" text-anchor="middle" y="12.6" font-weight="bold" fill="#ff0000">0.009</text>
<text transform="matrix(1.0528,0.4870,-0.8347,0.5508,1035.9,1594.0)" font-size="35" text-anchor="middle" y="12.6" font-weight="bold" fill="#000">0.015</text>
<text transform="matrix(0.9640,0.4409,-0.1156,0.9933,1021.2,1567.9)" font-size="37" text-anchor="middle" y="13.3" font-weight="bold">0</text>
<text transform="matrix(0.9701,0.4273,-0.1154,0.9933,1027.3,1508.5)" font-size="37" text-anchor="middle" y="13.3" font-weight="bold">5</text>
<text transform="matrix(0.9762,0.4130,-0.1176,0.9931,1044.6,1451.5)" font-size="37" text-anchor="middle" y="13.3" font-weight="bold">10</text>
<text transform="matrix(0.9824,0.3982,-0.1174,0.9931,1051.5,1388.3)" font-size="37" text-anchor="middle" y="13.3" font-weight="bold">15</text>
<text transform="matrix(0.9886,0.3824,-0.1172,0.9931,1058.2,1322.2)" font-size="37" text-anchor="middle" y="13.3" font-weight="bold">20</text>
<text transform="matrix(0.9947,0.3664,-0.1171,0.9931,1065.5,1256.0)" font-size="37" text-anchor="middle" y="13.3" font-weight="bold">25</text>
<text transform="matrix(1.0008,0.3494,-0.1171,0.9931,1073.6,1187.0)" font-size="37" text-anchor="middle" y="13.3" font-weight="bold">30</text>
<text transform="matrix(1.0067,0.3320,-0.1171,0.9931,1081.5,1117.2)" font-size="37" text-anchor="middle" y="13.3" font-weight="bold">35</text>
<text transform="matrix(0.7903,0.4709,-0.9194,0.5071,392.0,1704.0)" font-size="52" text-anchor="middle" y="14.0" font-weight="bold" font-style="italic">n (10<tspan font-size="27" dy="-19">18</tspan><tspan dy="19"> cm</tspan><tspan font-size="27" dy="-19">-3</tspan><tspan dy="19">)</tspan></text>
<text transform="matrix(0.7261,-0.5147,0.9819,0.4959,997.3,1732.0)" font-size="38" text-anchor="middle" y="12.0" font-weight="bold">x (Ca contents)</text>
<text transform="matrix(0.1191,-0.9223,1.0043,0.3973,1106.8,1374.0)" font-size="48" text-anchor="middle" y="15.0" font-weight="bold" font-style="italic">T<tspan font-size="30" dy="8">c</tspan><tspan dy="-8"> (K)</tspan></text>
</svg>
</body></html>
